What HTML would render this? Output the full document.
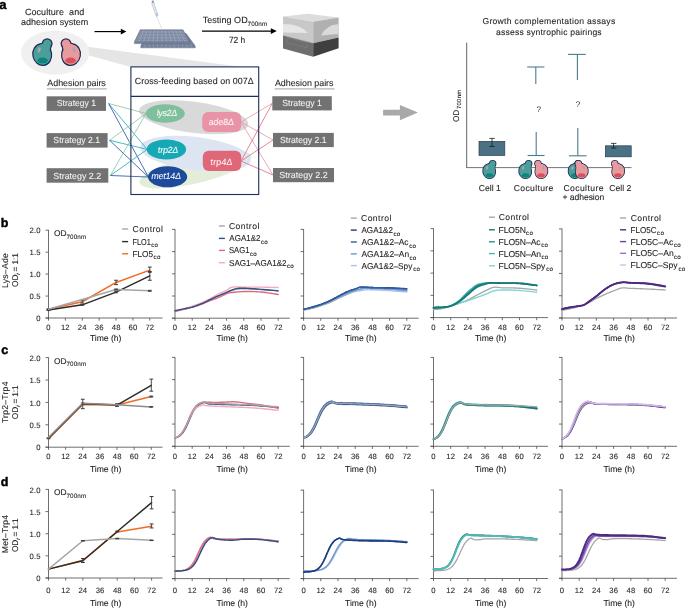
<!DOCTYPE html>
<html><head><meta charset="utf-8"><style>
html,body{margin:0;padding:0;background:#fff;width:685px;height:608px;overflow:hidden;}
svg{display:block;font-family:"Liberation Sans", sans-serif;will-change:transform;text-rendering:geometricPrecision;}
</style></head><body>
<svg width="685" height="608" viewBox="0 0 685 608" font-family='"Liberation Sans", sans-serif'><text x="-0.74" y="8.60" font-size="13" fill="#000" stroke="#000" stroke-width="0.45" letter-spacing="-0.055" font-weight="bold" xml:space="preserve">a</text>
<text x="24.90" y="14.90" font-size="9.0" fill="#231f20" stroke="#231f20" stroke-width="0.1" letter-spacing="0.061" xml:space="preserve">Coculture  and</text>
<text x="20.99" y="24.60" font-size="9.0" fill="#231f20" stroke="#231f20" stroke-width="0.1" letter-spacing="-0.021" xml:space="preserve">adhesion system</text>
<polygon points="80.00,45.70 242.50,66.90 131.00,66.90 80.00,53.00" fill="#e5e5e5"/>
<ellipse cx="55.20" cy="52.60" rx="34.20" ry="22.10" fill="#f0f0f0"/>
<g>
<ellipse cx="42.20" cy="54.60" rx="10.00" ry="11.50" fill="#1d2a55" transform="rotate(-10 42.20 54.60)"/>
<circle cx="47.20" cy="43.60" r="5.40" fill="#1d2a55"/>
<ellipse cx="44.20" cy="48.20" rx="7.60" ry="6.00" fill="#1d2a55" transform="rotate(-25.0 44.20 48.20)"/>
<ellipse cx="42.20" cy="54.60" rx="8.80" ry="10.30" fill="#4a9f9b" transform="rotate(-10 42.20 54.60)"/>
<circle cx="47.20" cy="43.60" r="4.20" fill="#4a9f9b"/>
<ellipse cx="44.20" cy="48.20" rx="6.40" ry="4.80" fill="#4a9f9b" transform="rotate(-25.0 44.20 48.20)"/>
<ellipse cx="39.20" cy="49.80" rx="1.50" ry="2.80" fill="#a7a7a7" transform="rotate(15 39.20 49.80)"/>
<ellipse cx="42.60" cy="60.50" rx="5.30" ry="2.90" fill="#0c857a"/>
</g>
<g>
<ellipse cx="71.00" cy="54.60" rx="10.00" ry="11.50" fill="#1d2a55" transform="rotate(10 71.00 54.60)"/>
<circle cx="66.00" cy="43.60" r="5.40" fill="#1d2a55"/>
<ellipse cx="69.00" cy="48.20" rx="7.60" ry="6.00" fill="#1d2a55" transform="rotate(25.0 69.00 48.20)"/>
<ellipse cx="71.00" cy="54.60" rx="8.80" ry="10.30" fill="#e99a9e" transform="rotate(10 71.00 54.60)"/>
<circle cx="66.00" cy="43.60" r="4.20" fill="#e99a9e"/>
<ellipse cx="69.00" cy="48.20" rx="6.40" ry="4.80" fill="#e99a9e" transform="rotate(25.0 69.00 48.20)"/>
<ellipse cx="74.00" cy="49.80" rx="1.50" ry="2.80" fill="#a7a7a7" transform="rotate(-15 74.00 49.80)"/>
<ellipse cx="70.60" cy="60.50" rx="5.30" ry="2.90" fill="#d8505b"/>
</g>
<line x1="94.50" y1="31.60" x2="122.00" y2="31.60" stroke="#000" stroke-width="1.15"/>
<polygon points="120.80,28.70 126.40,31.60 120.80,34.50" fill="#000"/>
<line x1="156.20" y1="16.00" x2="161.80" y2="28.60" stroke="#c5ccd6" stroke-width="0.55"/>
<polygon points="151.6,3.4 153.8,2.2 158.2,15.6 156.3,16.6" fill="#dfe5ec" stroke="#93a3b8" stroke-width="0.35"/>
<ellipse cx="156.8" cy="14.6" rx="1.0" ry="1.5" fill="#a9c6e2"/>
<rect x="151.8" y="0.6" width="2.0" height="2.2" fill="#8194b2"/>
<polygon points="145.80,33.60 186.20,33.60 195.20,46.00 195.20,47.80 140.80,47.80 140.80,46.00" fill="#75819a" stroke="#5f6b84" stroke-width="0.5"/>
<polygon points="140.20,29.80 183.00,29.80 189.60,41.80 189.60,43.60 134.40,43.60 134.40,41.80" fill="#75819a" stroke="#5f6b84" stroke-width="0.5"/>
<line x1="143.77" y1="30.40" x2="139.00" y2="41.60" stroke="#a9b3c5" stroke-width="0.5"/>
<line x1="147.33" y1="30.40" x2="143.60" y2="41.60" stroke="#a9b3c5" stroke-width="0.5"/>
<line x1="150.90" y1="30.40" x2="148.20" y2="41.60" stroke="#a9b3c5" stroke-width="0.5"/>
<line x1="154.47" y1="30.40" x2="152.80" y2="41.60" stroke="#a9b3c5" stroke-width="0.5"/>
<line x1="158.03" y1="30.40" x2="157.40" y2="41.60" stroke="#a9b3c5" stroke-width="0.5"/>
<line x1="161.60" y1="30.40" x2="162.00" y2="41.60" stroke="#a9b3c5" stroke-width="0.5"/>
<line x1="165.17" y1="30.40" x2="166.60" y2="41.60" stroke="#a9b3c5" stroke-width="0.5"/>
<line x1="168.73" y1="30.40" x2="171.20" y2="41.60" stroke="#a9b3c5" stroke-width="0.5"/>
<line x1="172.30" y1="30.40" x2="175.80" y2="41.60" stroke="#a9b3c5" stroke-width="0.5"/>
<line x1="175.87" y1="30.40" x2="180.40" y2="41.60" stroke="#a9b3c5" stroke-width="0.5"/>
<line x1="179.43" y1="30.40" x2="185.00" y2="41.60" stroke="#a9b3c5" stroke-width="0.5"/>
<line x1="140.07" y1="31.30" x2="183.22" y2="31.30" stroke="#a9b3c5" stroke-width="0.5"/>
<line x1="139.35" y1="32.80" x2="184.05" y2="32.80" stroke="#a9b3c5" stroke-width="0.5"/>
<line x1="138.62" y1="34.30" x2="184.88" y2="34.30" stroke="#a9b3c5" stroke-width="0.5"/>
<line x1="137.90" y1="35.80" x2="185.70" y2="35.80" stroke="#a9b3c5" stroke-width="0.5"/>
<line x1="137.17" y1="37.30" x2="186.53" y2="37.30" stroke="#a9b3c5" stroke-width="0.5"/>
<line x1="136.45" y1="38.80" x2="187.35" y2="38.80" stroke="#a9b3c5" stroke-width="0.5"/>
<line x1="135.72" y1="40.30" x2="188.18" y2="40.30" stroke="#a9b3c5" stroke-width="0.5"/>
<line x1="144.98" y1="44.20" x2="144.98" y2="47.40" stroke="#a9b3c5" stroke-width="0.45"/>
<line x1="149.17" y1="44.20" x2="149.17" y2="47.40" stroke="#a9b3c5" stroke-width="0.45"/>
<line x1="153.35" y1="44.20" x2="153.35" y2="47.40" stroke="#a9b3c5" stroke-width="0.45"/>
<line x1="157.54" y1="44.20" x2="157.54" y2="47.40" stroke="#a9b3c5" stroke-width="0.45"/>
<line x1="161.72" y1="44.20" x2="161.72" y2="47.40" stroke="#a9b3c5" stroke-width="0.45"/>
<line x1="165.91" y1="44.20" x2="165.91" y2="47.40" stroke="#a9b3c5" stroke-width="0.45"/>
<line x1="170.09" y1="44.20" x2="170.09" y2="47.40" stroke="#a9b3c5" stroke-width="0.45"/>
<line x1="174.28" y1="44.20" x2="174.28" y2="47.40" stroke="#a9b3c5" stroke-width="0.45"/>
<line x1="178.46" y1="44.20" x2="178.46" y2="47.40" stroke="#a9b3c5" stroke-width="0.45"/>
<line x1="182.65" y1="44.20" x2="182.65" y2="47.40" stroke="#a9b3c5" stroke-width="0.45"/>
<line x1="186.83" y1="44.20" x2="186.83" y2="47.40" stroke="#a9b3c5" stroke-width="0.45"/>
<line x1="191.02" y1="44.20" x2="191.02" y2="47.40" stroke="#a9b3c5" stroke-width="0.45"/>
<text x="202.67" y="22.90" font-size="9.0" fill="#231f20" stroke="#231f20" stroke-width="0.1" letter-spacing="0.053" xml:space="preserve">Testing OD</text>
<text x="247.53" y="25.70" font-size="6.3" fill="#231f20" stroke="#231f20" stroke-width="0.1" letter-spacing="0.112" xml:space="preserve">700nm</text>
<line x1="202.00" y1="31.10" x2="272.00" y2="31.10" stroke="#000" stroke-width="1.15"/>
<polygon points="270.80,28.20 276.80,31.10 270.80,34.00" fill="#000"/>
<text transform="translate(228.93 43.00) scale(0.9290 1)" font-size="9.0" fill="#231f20" stroke="#231f20" stroke-width="0.1" xml:space="preserve">72 h</text>
<polygon points="283.00,16.60 307.40,13.80 338.60,17.60 313.20,21.80" fill="#dcdcdc"/>
<polygon points="283.00,16.60 313.20,21.80 313.20,43.20 283.00,35.60" fill="#c8c8c8"/>
<polygon points="313.20,21.80 338.60,17.60 338.60,37.40 313.20,43.20" fill="#b0b0b0"/>
<polygon points="283.00,35.60 313.20,43.20 313.20,56.80 283.00,48.40" fill="#6e6e6e"/>
<polygon points="313.20,43.20 338.60,37.40 338.60,48.20 313.20,56.80" fill="#3f3f3f"/>
<path d="M283,24 Q300,24 308,33 L283,32.5 Z" fill="#e6e6e6"/>
<path d="M338.6,24 Q326,25 321,35.5 L338.6,34 Z" fill="#dadada"/>
<path d="M287,37.8 L307,42.6 L307,47.6 L287,43 Z" fill="none" stroke="#8a8a8a" stroke-width="0.4"/>
<line x1="283.00" y1="35.60" x2="313.20" y2="43.20" stroke="#8a8a8a" stroke-width="0.4"/>
<ellipse cx="193.70" cy="117.30" rx="55.00" ry="15.60" fill="#d9d9d9" transform="rotate(7.4 193.70 117.30)"/>
<ellipse cx="195.40" cy="169.40" rx="57.50" ry="14.00" fill="#e3eed8" transform="rotate(-13.5 195.40 169.40)"/>
<ellipse cx="195.50" cy="153.60" rx="55.70" ry="16.60" fill="#dee5f2" transform="rotate(7.0 195.50 153.60)"/>
<line x1="108.60" y1="103.50" x2="146.00" y2="113.50" stroke="#86c3a2" stroke-width="0.8"/>
<line x1="108.60" y1="103.50" x2="147.20" y2="149.40" stroke="#1aaab6" stroke-width="0.8"/>
<line x1="108.60" y1="103.50" x2="148.40" y2="177.00" stroke="#1f4d9e" stroke-width="0.8"/>
<line x1="109.60" y1="140.30" x2="146.00" y2="113.50" stroke="#86c3a2" stroke-width="0.8"/>
<line x1="109.60" y1="140.30" x2="147.20" y2="149.40" stroke="#1aaab6" stroke-width="0.8"/>
<line x1="109.60" y1="140.30" x2="148.40" y2="177.00" stroke="#1f4d9e" stroke-width="0.8"/>
<line x1="110.40" y1="175.50" x2="146.00" y2="113.50" stroke="#86c3a2" stroke-width="0.8"/>
<line x1="110.40" y1="175.50" x2="147.20" y2="149.40" stroke="#1aaab6" stroke-width="0.8"/>
<line x1="110.40" y1="175.50" x2="148.40" y2="177.00" stroke="#1f4d9e" stroke-width="0.8"/>
<line x1="241.00" y1="122.00" x2="272.30" y2="103.30" stroke="#ea93a6" stroke-width="0.8"/>
<line x1="241.00" y1="122.00" x2="273.00" y2="140.00" stroke="#ea93a6" stroke-width="0.8"/>
<line x1="241.00" y1="122.00" x2="273.00" y2="175.00" stroke="#ea93a6" stroke-width="0.8"/>
<line x1="241.00" y1="161.00" x2="272.30" y2="103.30" stroke="#e06a7a" stroke-width="0.8"/>
<line x1="241.00" y1="161.00" x2="273.00" y2="140.00" stroke="#e06a7a" stroke-width="0.8"/>
<line x1="241.00" y1="161.00" x2="273.00" y2="175.00" stroke="#e06a7a" stroke-width="0.8"/>
<ellipse cx="165.20" cy="113.50" rx="19.60" ry="9.20" fill="#7fbf9d"/>
<ellipse cx="166.40" cy="149.40" rx="19.70" ry="10.00" fill="#16a9b5"/>
<ellipse cx="167.60" cy="176.80" rx="19.60" ry="10.50" fill="#1d4a9b"/>
<rect x="202.20" y="111.90" width="39.00" height="20.10" fill="#e993a6" rx="6"/>
<rect x="202.80" y="150.80" width="38.50" height="20.30" fill="#df6777" rx="6"/>
<g transform="translate(156.47 115.90) skewX(-8.0)"><text x="0" y="0" font-size="8.9" fill="#f4f8f4" stroke="#f4f8f4" stroke-width="0.1" letter-spacing="-0.340">lys2Δ</text></g>
<g transform="translate(157.62 152.70) skewX(-8.0)"><text x="0" y="0" font-size="8.9" fill="#f4fbfb" stroke="#f4fbfb" stroke-width="0.1" letter-spacing="-0.204">trp2Δ</text></g>
<g transform="translate(150.97 179.10) skewX(-8.0)"><text x="0" y="0" font-size="8.9" fill="#f2f4fa" stroke="#f2f4fa" stroke-width="0.1" letter-spacing="-0.172">met14Δ</text></g>
<g transform="translate(208.49 124.70) skewX(-5)"><text x="0" y="0" font-size="8.9" fill="#fdf2f4" stroke="#fdf2f4" stroke-width="0.1" letter-spacing="-0.111">ade8Δ</text></g>
<g transform="translate(210.22 164.70) skewX(-5)"><text x="0" y="0" font-size="8.9" fill="#fdf2f4" stroke="#fdf2f4" stroke-width="0.1" letter-spacing="0.196">trp4Δ</text></g>
<rect x="130.9" y="66.9" width="127.8" height="127.6" fill="none" stroke="#1c2d5a" stroke-width="1.1"/>
<line x1="130.90" y1="96.40" x2="258.70" y2="96.40" stroke="#1c2d5a" stroke-width="1.1"/>
<text x="134.71" y="84.10" font-size="8.9" fill="#231f20" stroke="#231f20" stroke-width="0.1" letter-spacing="0.062" xml:space="preserve">Cross-feeding based on 007Δ</text>
<text x="47.35" y="85.80" font-size="8.9" fill="#231f20" stroke="#231f20" stroke-width="0.1" letter-spacing="-0.020" xml:space="preserve">Adhesion pairs</text>
<line x1="47.00" y1="88.90" x2="106.80" y2="88.90" stroke="#b4b4b4" stroke-width="1.4"/>
<text x="274.95" y="86.20" font-size="8.9" fill="#231f20" stroke="#231f20" stroke-width="0.1" letter-spacing="-0.012" xml:space="preserve">Adhesion pairs</text>
<line x1="274.60" y1="88.90" x2="334.50" y2="88.90" stroke="#b4b4b4" stroke-width="1.4"/>
<rect x="46.60" y="96.30" width="59.40" height="14.60" fill="#727272"/>
<text transform="translate(56.86 106.20) scale(0.9688 1)" font-size="8.9" fill="#f0f0f0" stroke="#f0f0f0" stroke-width="0.1" xml:space="preserve">Strategy 1</text>
<rect x="46.60" y="133.10" width="61.00" height="14.50" fill="#727272"/>
<text transform="translate(53.36 143.40) scale(0.9752 1)" font-size="8.9" fill="#f0f0f0" stroke="#f0f0f0" stroke-width="0.1" xml:space="preserve">Strategy 2.1</text>
<rect x="46.60" y="168.20" width="61.70" height="14.50" fill="#727272"/>
<text x="53.35" y="178.60" font-size="8.9" fill="#f0f0f0" stroke="#f0f0f0" stroke-width="0.1" letter-spacing="-0.002" xml:space="preserve">Strategy 2.2</text>
<rect x="272.30" y="96.20" width="59.50" height="14.20" fill="#727272"/>
<text transform="translate(282.26 106.30) scale(0.9764 1)" font-size="8.9" fill="#f0f0f0" stroke="#f0f0f0" stroke-width="0.1" xml:space="preserve">Strategy 1</text>
<rect x="273.00" y="132.90" width="60.80" height="14.20" fill="#727272"/>
<text transform="translate(279.96 142.90) scale(0.9752 1)" font-size="8.9" fill="#f0f0f0" stroke="#f0f0f0" stroke-width="0.1" xml:space="preserve">Strategy 2.1</text>
<rect x="273.00" y="168.00" width="61.00" height="14.20" fill="#727272"/>
<text x="279.25" y="178.00" font-size="8.9" fill="#f0f0f0" stroke="#f0f0f0" stroke-width="0.1" letter-spacing="0.043" xml:space="preserve">Strategy 2.2</text>
<polygon points="383.10,109.70 399.90,109.70 399.90,105.00 417.90,112.40 399.90,120.20 399.90,115.50 383.10,115.50" fill="#a9a9a9"/>
<text x="482.42" y="24.30" font-size="8.6" fill="#231f20" stroke="#231f20" stroke-width="0.1" letter-spacing="0.292" xml:space="preserve">Growth complementation assays</text>
<text x="496.11" y="34.60" font-size="8.6" fill="#231f20" stroke="#231f20" stroke-width="0.1" letter-spacing="0.191" xml:space="preserve">assess syntrophic pairings</text>
<line x1="466.70" y1="42.60" x2="466.70" y2="167.80" stroke="#555" stroke-width="0.9"/>
<line x1="466.20" y1="167.60" x2="631.50" y2="167.60" stroke="#666" stroke-width="0.9"/>
<text transform="translate(459.0 122.1) rotate(-90)" font-size="8.3" fill="#231f20" stroke="#231f20" stroke-width="0.1">OD<tspan font-size="5.9" dy="2.2" dx="0.6" letter-spacing="0.3">700nm</tspan></text>
<rect x="479.00" y="141.40" width="25.80" height="14.00" fill="#4a7284" stroke="#263d52" stroke-width="0.7"/>
<rect x="605.40" y="145.80" width="25.80" height="11.00" fill="#4a7284" stroke="#263d52" stroke-width="0.7"/>
<line x1="492.00" y1="138.40" x2="492.00" y2="146.60" stroke="#1a1a1a" stroke-width="0.8"/>
<line x1="489.40" y1="138.40" x2="494.80" y2="138.40" stroke="#1a1a1a" stroke-width="0.8"/>
<line x1="489.40" y1="146.40" x2="494.80" y2="146.40" stroke="#1a1a1a" stroke-width="0.8"/>
<line x1="613.60" y1="143.40" x2="613.60" y2="148.20" stroke="#1a1a1a" stroke-width="0.8"/>
<line x1="611.00" y1="143.40" x2="616.40" y2="143.40" stroke="#1a1a1a" stroke-width="0.8"/>
<line x1="611.00" y1="148.00" x2="616.40" y2="148.00" stroke="#1a1a1a" stroke-width="0.8"/>
<line x1="527.20" y1="67.00" x2="544.40" y2="67.00" stroke="#4e7a8e" stroke-width="1.1"/>
<line x1="535.80" y1="67.00" x2="535.80" y2="84.00" stroke="#4e7a8e" stroke-width="1.1"/>
<line x1="536.20" y1="132.00" x2="536.20" y2="155.50" stroke="#4e7a8e" stroke-width="1.1"/>
<line x1="527.60" y1="155.50" x2="544.60" y2="155.50" stroke="#4e7a8e" stroke-width="1.1"/>
<line x1="568.00" y1="54.40" x2="585.80" y2="54.40" stroke="#4e7a8e" stroke-width="1.1"/>
<line x1="577.40" y1="54.40" x2="577.40" y2="80.00" stroke="#4e7a8e" stroke-width="1.1"/>
<line x1="577.80" y1="128.00" x2="577.80" y2="155.80" stroke="#4e7a8e" stroke-width="1.1"/>
<line x1="569.00" y1="155.80" x2="586.60" y2="155.80" stroke="#4e7a8e" stroke-width="1.1"/>
<text x="538.70" y="112.20" font-size="8" fill="#231f20" text-anchor="middle">?</text>
<text x="578.00" y="107.00" font-size="8" fill="#231f20" text-anchor="middle">?</text>
<g>
<ellipse cx="489.20" cy="171.20" rx="6.90" ry="7.94" fill="#1d2a55" transform="rotate(-10 489.20 171.20)"/>
<circle cx="492.65" cy="163.61" r="3.73" fill="#1d2a55"/>
<ellipse cx="490.58" cy="166.78" rx="5.24" ry="4.14" fill="#1d2a55" transform="rotate(-25.0 490.58 166.78)"/>
<ellipse cx="489.20" cy="171.20" rx="6.07" ry="7.11" fill="#4a9f9b" transform="rotate(-10 489.20 171.20)"/>
<circle cx="492.65" cy="163.61" r="2.90" fill="#4a9f9b"/>
<ellipse cx="490.58" cy="166.78" rx="4.42" ry="3.31" fill="#4a9f9b" transform="rotate(-25.0 490.58 166.78)"/>
<ellipse cx="487.13" cy="167.89" rx="1.03" ry="1.93" fill="#a7a7a7" transform="rotate(15 487.13 167.89)"/>
<ellipse cx="489.48" cy="175.27" rx="3.66" ry="2.00" fill="#0c857a"/>
</g>
<g>
<ellipse cx="525.20" cy="171.20" rx="6.90" ry="7.94" fill="#1d2a55" transform="rotate(-10 525.20 171.20)"/>
<circle cx="528.65" cy="163.61" r="3.73" fill="#1d2a55"/>
<ellipse cx="526.58" cy="166.78" rx="5.24" ry="4.14" fill="#1d2a55" transform="rotate(-25.0 526.58 166.78)"/>
<ellipse cx="525.20" cy="171.20" rx="6.07" ry="7.11" fill="#4a9f9b" transform="rotate(-10 525.20 171.20)"/>
<circle cx="528.65" cy="163.61" r="2.90" fill="#4a9f9b"/>
<ellipse cx="526.58" cy="166.78" rx="4.42" ry="3.31" fill="#4a9f9b" transform="rotate(-25.0 526.58 166.78)"/>
<ellipse cx="523.13" cy="167.89" rx="1.03" ry="1.93" fill="#a7a7a7" transform="rotate(15 523.13 167.89)"/>
<ellipse cx="525.48" cy="175.27" rx="3.66" ry="2.00" fill="#0c857a"/>
</g>
<g>
<ellipse cx="541.40" cy="171.20" rx="6.90" ry="7.94" fill="#1d2a55" transform="rotate(10 541.40 171.20)"/>
<circle cx="537.95" cy="163.61" r="3.73" fill="#1d2a55"/>
<ellipse cx="540.02" cy="166.78" rx="5.24" ry="4.14" fill="#1d2a55" transform="rotate(25.0 540.02 166.78)"/>
<ellipse cx="541.40" cy="171.20" rx="6.07" ry="7.11" fill="#e99a9e" transform="rotate(10 541.40 171.20)"/>
<circle cx="537.95" cy="163.61" r="2.90" fill="#e99a9e"/>
<ellipse cx="540.02" cy="166.78" rx="4.42" ry="3.31" fill="#e99a9e" transform="rotate(25.0 540.02 166.78)"/>
<ellipse cx="543.47" cy="167.89" rx="1.03" ry="1.93" fill="#a7a7a7" transform="rotate(-15 543.47 167.89)"/>
<ellipse cx="541.12" cy="175.27" rx="3.66" ry="2.00" fill="#d8505b"/>
</g>
<g>
<ellipse cx="574.60" cy="171.20" rx="6.90" ry="7.94" fill="#1d2a55" transform="rotate(-10 574.60 171.20)"/>
<circle cx="578.05" cy="163.61" r="3.73" fill="#1d2a55"/>
<ellipse cx="575.98" cy="166.78" rx="5.24" ry="4.14" fill="#1d2a55" transform="rotate(-25.0 575.98 166.78)"/>
<ellipse cx="574.60" cy="171.20" rx="6.07" ry="7.11" fill="#4a9f9b" transform="rotate(-10 574.60 171.20)"/>
<circle cx="578.05" cy="163.61" r="2.90" fill="#4a9f9b"/>
<ellipse cx="575.98" cy="166.78" rx="4.42" ry="3.31" fill="#4a9f9b" transform="rotate(-25.0 575.98 166.78)"/>
<ellipse cx="572.53" cy="167.89" rx="1.03" ry="1.93" fill="#a7a7a7" transform="rotate(15 572.53 167.89)"/>
<ellipse cx="574.88" cy="175.27" rx="3.66" ry="2.00" fill="#0c857a"/>
</g>
<g>
<ellipse cx="581.80" cy="171.20" rx="6.90" ry="7.94" fill="#1d2a55" transform="rotate(10 581.80 171.20)"/>
<circle cx="578.35" cy="163.61" r="3.73" fill="#1d2a55"/>
<ellipse cx="580.42" cy="166.78" rx="5.24" ry="4.14" fill="#1d2a55" transform="rotate(25.0 580.42 166.78)"/>
<ellipse cx="581.80" cy="171.20" rx="6.07" ry="7.11" fill="#e99a9e" transform="rotate(10 581.80 171.20)"/>
<circle cx="578.35" cy="163.61" r="2.90" fill="#e99a9e"/>
<ellipse cx="580.42" cy="166.78" rx="4.42" ry="3.31" fill="#e99a9e" transform="rotate(25.0 580.42 166.78)"/>
<ellipse cx="583.87" cy="167.89" rx="1.03" ry="1.93" fill="#a7a7a7" transform="rotate(-15 583.87 167.89)"/>
<ellipse cx="581.52" cy="175.27" rx="3.66" ry="2.00" fill="#d8505b"/>
</g>
<g>
<ellipse cx="618.20" cy="171.20" rx="6.90" ry="7.94" fill="#1d2a55" transform="rotate(10 618.20 171.20)"/>
<circle cx="614.75" cy="163.61" r="3.73" fill="#1d2a55"/>
<ellipse cx="616.82" cy="166.78" rx="5.24" ry="4.14" fill="#1d2a55" transform="rotate(25.0 616.82 166.78)"/>
<ellipse cx="618.20" cy="171.20" rx="6.07" ry="7.11" fill="#e99a9e" transform="rotate(10 618.20 171.20)"/>
<circle cx="614.75" cy="163.61" r="2.90" fill="#e99a9e"/>
<ellipse cx="616.82" cy="166.78" rx="4.42" ry="3.31" fill="#e99a9e" transform="rotate(25.0 616.82 166.78)"/>
<ellipse cx="620.27" cy="167.89" rx="1.03" ry="1.93" fill="#a7a7a7" transform="rotate(-15 620.27 167.89)"/>
<ellipse cx="617.92" cy="175.27" rx="3.66" ry="2.00" fill="#d8505b"/>
</g>
<text x="478.72" y="190.90" font-size="8.6" fill="#231f20" stroke="#231f20" stroke-width="0.1" letter-spacing="0.009" xml:space="preserve">Cell 1</text>
<text x="513.82" y="190.90" font-size="8.6" fill="#231f20" stroke="#231f20" stroke-width="0.1" letter-spacing="0.339" xml:space="preserve">Coculture</text>
<text x="563.42" y="190.90" font-size="8.6" fill="#231f20" stroke="#231f20" stroke-width="0.1" letter-spacing="0.414" xml:space="preserve">Coculture</text>
<text x="609.22" y="190.90" font-size="8.6" fill="#231f20" stroke="#231f20" stroke-width="0.1" letter-spacing="0.017" xml:space="preserve">Cell 2</text>
<text x="562.52" y="200.30" font-size="8.6" fill="#231f20" stroke="#231f20" stroke-width="0.1" letter-spacing="-0.069" xml:space="preserve">+ adhesion</text>
<line x1="48.50" y1="229.90" x2="48.50" y2="318.30" stroke="#4a4a4a" stroke-width="0.8"/>
<line x1="45.50" y1="318.00" x2="162.50" y2="318.00" stroke="#4a4a4a" stroke-width="0.8"/>
<line x1="45.50" y1="318.00" x2="48.50" y2="318.00" stroke="#4a4a4a" stroke-width="0.8"/>
<line x1="45.50" y1="296.05" x2="48.50" y2="296.05" stroke="#4a4a4a" stroke-width="0.8"/>
<line x1="45.50" y1="274.10" x2="48.50" y2="274.10" stroke="#4a4a4a" stroke-width="0.8"/>
<line x1="45.50" y1="252.15" x2="48.50" y2="252.15" stroke="#4a4a4a" stroke-width="0.8"/>
<line x1="45.50" y1="230.20" x2="48.50" y2="230.20" stroke="#4a4a4a" stroke-width="0.8"/>
<line x1="48.50" y1="318.00" x2="48.50" y2="320.60" stroke="#4a4a4a" stroke-width="0.8"/>
<text x="46.34" y="329.90" font-size="7.7" fill="#2a2a2a" stroke="#2a2a2a" stroke-width="0.1" letter-spacing="0.100" xml:space="preserve">0</text>
<line x1="65.38" y1="318.00" x2="65.38" y2="320.60" stroke="#4a4a4a" stroke-width="0.8"/>
<text x="60.96" y="329.90" font-size="7.7" fill="#2a2a2a" stroke="#2a2a2a" stroke-width="0.1" letter-spacing="0.100" xml:space="preserve">12</text>
<line x1="82.27" y1="318.00" x2="82.27" y2="320.60" stroke="#4a4a4a" stroke-width="0.8"/>
<text x="77.87" y="329.90" font-size="7.7" fill="#2a2a2a" stroke="#2a2a2a" stroke-width="0.1" letter-spacing="0.100" xml:space="preserve">24</text>
<line x1="99.15" y1="318.00" x2="99.15" y2="320.60" stroke="#4a4a4a" stroke-width="0.8"/>
<text x="94.83" y="329.90" font-size="7.7" fill="#2a2a2a" stroke="#2a2a2a" stroke-width="0.1" letter-spacing="0.100" xml:space="preserve">36</text>
<line x1="116.03" y1="318.00" x2="116.03" y2="320.60" stroke="#4a4a4a" stroke-width="0.8"/>
<text x="111.79" y="329.90" font-size="7.7" fill="#2a2a2a" stroke="#2a2a2a" stroke-width="0.1" letter-spacing="0.100" xml:space="preserve">48</text>
<line x1="132.92" y1="318.00" x2="132.92" y2="320.60" stroke="#4a4a4a" stroke-width="0.8"/>
<text x="128.54" y="329.90" font-size="7.7" fill="#2a2a2a" stroke="#2a2a2a" stroke-width="0.1" letter-spacing="0.100" xml:space="preserve">60</text>
<line x1="149.80" y1="318.00" x2="149.80" y2="320.60" stroke="#4a4a4a" stroke-width="0.8"/>
<text x="145.48" y="329.90" font-size="7.7" fill="#2a2a2a" stroke="#2a2a2a" stroke-width="0.1" letter-spacing="0.100" xml:space="preserve">72</text>
<text x="89.88" y="341.20" font-size="8.6" fill="#231f20" stroke="#231f20" stroke-width="0.1" letter-spacing="-0.009" xml:space="preserve">Time (h)</text>
<text x="36.20" y="321.10" font-size="7.7" fill="#2a2a2a" stroke="#2a2a2a" stroke-width="0.1" letter-spacing="0.100" xml:space="preserve">0</text>
<text x="29.61" y="299.15" font-size="7.7" fill="#2a2a2a" stroke="#2a2a2a" stroke-width="0.1" letter-spacing="0.100" xml:space="preserve">0.5</text>
<text x="29.57" y="277.20" font-size="7.7" fill="#2a2a2a" stroke="#2a2a2a" stroke-width="0.1" letter-spacing="0.100" xml:space="preserve">1.0</text>
<text x="29.61" y="255.25" font-size="7.7" fill="#2a2a2a" stroke="#2a2a2a" stroke-width="0.1" letter-spacing="0.100" xml:space="preserve">1.5</text>
<text x="29.57" y="233.30" font-size="7.7" fill="#2a2a2a" stroke="#2a2a2a" stroke-width="0.1" letter-spacing="0.100" xml:space="preserve">2.0</text>
<text x="53.97" y="236.10" font-size="8.4" fill="#231f20" stroke="#231f20" stroke-width="0.1" letter-spacing="0.056" xml:space="preserve">OD</text>
<text x="66.44" y="239.00" font-size="6.3" fill="#231f20" stroke="#231f20" stroke-width="0.1" letter-spacing="0.137" xml:space="preserve">700nm</text>
<text transform="translate(8.3 270.50) rotate(-90)" font-size="8.6" fill="#231f20" stroke="#231f20" stroke-width="0.1" text-anchor="middle" letter-spacing="0.25">Lys–Ade</text>
<text transform="translate(17.7 270.10) rotate(-90)" font-size="8.4" fill="#231f20" stroke="#231f20" stroke-width="0.1" text-anchor="middle" letter-spacing="-0.15">OD<tspan font-size="5.6" dy="2.3" font-style="italic">i</tspan><tspan dy="-2.3"> = 1:1</tspan></text>
<text x="0.74" y="227.00" font-size="12.5" fill="#000" stroke="#000" stroke-width="0.45" letter-spacing="-0.012" font-weight="bold" xml:space="preserve">b</text>
<polyline points="48.50,309.22 82.27,301.76 116.03,282.44 149.80,270.15" fill="none" stroke="#f26b21" stroke-width="1.5" stroke-linejoin="round" stroke-linecap="round"/>
<line x1="48.50" y1="309.66" x2="48.50" y2="308.78" stroke="#3a3a3a" stroke-width="0.9"/>
<line x1="46.60" y1="309.66" x2="50.40" y2="309.66" stroke="#3a3a3a" stroke-width="1.0"/>
<line x1="46.60" y1="308.78" x2="50.40" y2="308.78" stroke="#3a3a3a" stroke-width="1.0"/>
<line x1="82.27" y1="303.07" x2="82.27" y2="300.00" stroke="#3a3a3a" stroke-width="0.9"/>
<line x1="80.37" y1="303.07" x2="84.17" y2="303.07" stroke="#3a3a3a" stroke-width="1.0"/>
<line x1="80.37" y1="300.00" x2="84.17" y2="300.00" stroke="#3a3a3a" stroke-width="1.0"/>
<line x1="116.03" y1="284.64" x2="116.03" y2="280.25" stroke="#3a3a3a" stroke-width="0.9"/>
<line x1="114.13" y1="284.64" x2="117.93" y2="284.64" stroke="#3a3a3a" stroke-width="1.0"/>
<line x1="114.13" y1="280.25" x2="117.93" y2="280.25" stroke="#3a3a3a" stroke-width="1.0"/>
<line x1="149.80" y1="272.34" x2="149.80" y2="267.08" stroke="#3a3a3a" stroke-width="0.9"/>
<line x1="147.90" y1="272.34" x2="151.70" y2="272.34" stroke="#3a3a3a" stroke-width="1.0"/>
<line x1="147.90" y1="267.08" x2="151.70" y2="267.08" stroke="#3a3a3a" stroke-width="1.0"/>
<polyline points="48.50,310.10 82.27,304.83 116.03,292.10 149.80,275.86" fill="none" stroke="#2b2b2b" stroke-width="1.5" stroke-linejoin="round" stroke-linecap="round"/>
<line x1="48.50" y1="310.54" x2="48.50" y2="309.66" stroke="#3a3a3a" stroke-width="0.9"/>
<line x1="46.60" y1="310.54" x2="50.40" y2="310.54" stroke="#3a3a3a" stroke-width="1.0"/>
<line x1="46.60" y1="309.66" x2="50.40" y2="309.66" stroke="#3a3a3a" stroke-width="1.0"/>
<line x1="82.27" y1="305.27" x2="82.27" y2="304.39" stroke="#3a3a3a" stroke-width="0.9"/>
<line x1="80.37" y1="305.27" x2="84.17" y2="305.27" stroke="#3a3a3a" stroke-width="1.0"/>
<line x1="80.37" y1="304.39" x2="84.17" y2="304.39" stroke="#3a3a3a" stroke-width="1.0"/>
<line x1="116.03" y1="292.76" x2="116.03" y2="291.22" stroke="#3a3a3a" stroke-width="0.9"/>
<line x1="114.13" y1="292.76" x2="117.93" y2="292.76" stroke="#3a3a3a" stroke-width="1.0"/>
<line x1="114.13" y1="291.22" x2="117.93" y2="291.22" stroke="#3a3a3a" stroke-width="1.0"/>
<line x1="149.80" y1="280.25" x2="149.80" y2="271.47" stroke="#3a3a3a" stroke-width="0.9"/>
<line x1="147.90" y1="280.25" x2="151.70" y2="280.25" stroke="#3a3a3a" stroke-width="1.0"/>
<line x1="147.90" y1="271.47" x2="151.70" y2="271.47" stroke="#3a3a3a" stroke-width="1.0"/>
<polyline points="48.50,309.22 82.27,299.56 116.03,289.46 149.80,290.78" fill="none" stroke="#a6a6a6" stroke-width="1.5" stroke-linejoin="round" stroke-linecap="round"/>
<line x1="116.03" y1="289.90" x2="116.03" y2="289.03" stroke="#3a3a3a" stroke-width="0.9"/>
<line x1="114.13" y1="289.90" x2="117.93" y2="289.90" stroke="#3a3a3a" stroke-width="1.0"/>
<line x1="114.13" y1="289.03" x2="117.93" y2="289.03" stroke="#3a3a3a" stroke-width="1.0"/>
<line x1="149.80" y1="291.22" x2="149.80" y2="290.34" stroke="#3a3a3a" stroke-width="0.9"/>
<line x1="147.90" y1="291.22" x2="151.70" y2="291.22" stroke="#3a3a3a" stroke-width="1.0"/>
<line x1="147.90" y1="290.34" x2="151.70" y2="290.34" stroke="#3a3a3a" stroke-width="1.0"/>
<line x1="122.10" y1="229.00" x2="128.10" y2="229.00" stroke="#a6a6a6" stroke-width="1.4"/>
<text x="132.62" y="231.90" font-size="8.6" fill="#231f20" stroke="#231f20" stroke-width="0.1" letter-spacing="0.433" xml:space="preserve">Control</text>
<line x1="122.10" y1="241.60" x2="128.10" y2="241.60" stroke="#2b2b2b" stroke-width="1.4"/>
<text transform="translate(132.46 244.50) scale(0.8519 1)" font-size="8.6" fill="#231f20" stroke="#231f20" stroke-width="0.1" xml:space="preserve">FLO1</text>
<text x="151.30" y="247.20" font-size="6.2" fill="#231f20" stroke="#231f20" stroke-width="0.1" letter-spacing="0.200" xml:space="preserve">co</text>
<line x1="122.10" y1="253.80" x2="128.10" y2="253.80" stroke="#f26b21" stroke-width="1.4"/>
<text transform="translate(132.39 256.70) scale(0.9625 1)" font-size="8.6" fill="#231f20" stroke="#231f20" stroke-width="0.1" xml:space="preserve">FLO5</text>
<text x="153.60" y="259.40" font-size="6.2" fill="#231f20" stroke="#231f20" stroke-width="0.1" letter-spacing="0.200" xml:space="preserve">co</text>
<line x1="48.50" y1="357.30" x2="48.50" y2="447.50" stroke="#4a4a4a" stroke-width="0.8"/>
<line x1="45.50" y1="447.20" x2="162.50" y2="447.20" stroke="#4a4a4a" stroke-width="0.8"/>
<line x1="45.50" y1="447.20" x2="48.50" y2="447.20" stroke="#4a4a4a" stroke-width="0.8"/>
<line x1="45.50" y1="424.80" x2="48.50" y2="424.80" stroke="#4a4a4a" stroke-width="0.8"/>
<line x1="45.50" y1="402.40" x2="48.50" y2="402.40" stroke="#4a4a4a" stroke-width="0.8"/>
<line x1="45.50" y1="380.00" x2="48.50" y2="380.00" stroke="#4a4a4a" stroke-width="0.8"/>
<line x1="45.50" y1="357.60" x2="48.50" y2="357.60" stroke="#4a4a4a" stroke-width="0.8"/>
<line x1="48.50" y1="447.20" x2="48.50" y2="449.80" stroke="#4a4a4a" stroke-width="0.8"/>
<text x="46.34" y="458.50" font-size="7.7" fill="#2a2a2a" stroke="#2a2a2a" stroke-width="0.1" letter-spacing="0.100" xml:space="preserve">0</text>
<line x1="65.63" y1="447.20" x2="65.63" y2="449.80" stroke="#4a4a4a" stroke-width="0.8"/>
<text x="61.21" y="458.50" font-size="7.7" fill="#2a2a2a" stroke="#2a2a2a" stroke-width="0.1" letter-spacing="0.100" xml:space="preserve">12</text>
<line x1="82.77" y1="447.20" x2="82.77" y2="449.80" stroke="#4a4a4a" stroke-width="0.8"/>
<text x="78.37" y="458.50" font-size="7.7" fill="#2a2a2a" stroke="#2a2a2a" stroke-width="0.1" letter-spacing="0.100" xml:space="preserve">24</text>
<line x1="99.90" y1="447.20" x2="99.90" y2="449.80" stroke="#4a4a4a" stroke-width="0.8"/>
<text x="95.58" y="458.50" font-size="7.7" fill="#2a2a2a" stroke="#2a2a2a" stroke-width="0.1" letter-spacing="0.100" xml:space="preserve">36</text>
<line x1="117.03" y1="447.20" x2="117.03" y2="449.80" stroke="#4a4a4a" stroke-width="0.8"/>
<text x="112.79" y="458.50" font-size="7.7" fill="#2a2a2a" stroke="#2a2a2a" stroke-width="0.1" letter-spacing="0.100" xml:space="preserve">48</text>
<line x1="134.17" y1="447.20" x2="134.17" y2="449.80" stroke="#4a4a4a" stroke-width="0.8"/>
<text x="129.79" y="458.50" font-size="7.7" fill="#2a2a2a" stroke="#2a2a2a" stroke-width="0.1" letter-spacing="0.100" xml:space="preserve">60</text>
<line x1="151.30" y1="447.20" x2="151.30" y2="449.80" stroke="#4a4a4a" stroke-width="0.8"/>
<text x="146.98" y="458.50" font-size="7.7" fill="#2a2a2a" stroke="#2a2a2a" stroke-width="0.1" letter-spacing="0.100" xml:space="preserve">72</text>
<text x="89.88" y="472.20" font-size="8.6" fill="#231f20" stroke="#231f20" stroke-width="0.1" letter-spacing="-0.009" xml:space="preserve">Time (h)</text>
<text x="36.20" y="450.30" font-size="7.7" fill="#2a2a2a" stroke="#2a2a2a" stroke-width="0.1" letter-spacing="0.100" xml:space="preserve">0</text>
<text x="29.61" y="427.90" font-size="7.7" fill="#2a2a2a" stroke="#2a2a2a" stroke-width="0.1" letter-spacing="0.100" xml:space="preserve">0.5</text>
<text x="29.57" y="405.50" font-size="7.7" fill="#2a2a2a" stroke="#2a2a2a" stroke-width="0.1" letter-spacing="0.100" xml:space="preserve">1.0</text>
<text x="29.61" y="383.10" font-size="7.7" fill="#2a2a2a" stroke="#2a2a2a" stroke-width="0.1" letter-spacing="0.100" xml:space="preserve">1.5</text>
<text x="29.57" y="360.70" font-size="7.7" fill="#2a2a2a" stroke="#2a2a2a" stroke-width="0.1" letter-spacing="0.100" xml:space="preserve">2.0</text>
<text x="53.97" y="363.50" font-size="8.4" fill="#231f20" stroke="#231f20" stroke-width="0.1" letter-spacing="0.056" xml:space="preserve">OD</text>
<text x="66.44" y="366.40" font-size="6.3" fill="#231f20" stroke="#231f20" stroke-width="0.1" letter-spacing="0.137" xml:space="preserve">700nm</text>
<text transform="translate(8.3 402.20) rotate(-90)" font-size="8.6" fill="#231f20" stroke="#231f20" stroke-width="0.1" text-anchor="middle" letter-spacing="0.25">Trp2–Trp4</text>
<text transform="translate(17.7 402.30) rotate(-90)" font-size="8.4" fill="#231f20" stroke="#231f20" stroke-width="0.1" text-anchor="middle" letter-spacing="-0.15">OD<tspan font-size="5.6" dy="2.3" font-style="italic">i</tspan><tspan dy="-2.3"> = 1:1</tspan></text>
<text x="1.25" y="354.30" font-size="12.5" fill="#000" stroke="#000" stroke-width="0.45" letter-spacing="0.038" font-weight="bold" xml:space="preserve">c</text>
<polyline points="48.50,438.91 82.77,404.42 117.03,405.09 151.30,396.58" fill="none" stroke="#f26b21" stroke-width="1.5" stroke-linejoin="round" stroke-linecap="round"/>
<line x1="151.30" y1="397.02" x2="151.30" y2="396.13" stroke="#3a3a3a" stroke-width="0.9"/>
<line x1="149.40" y1="397.02" x2="153.20" y2="397.02" stroke="#3a3a3a" stroke-width="1.0"/>
<line x1="149.40" y1="396.13" x2="153.20" y2="396.13" stroke="#3a3a3a" stroke-width="1.0"/>
<polyline points="48.50,438.24 82.77,403.74 117.03,405.09 151.30,385.38" fill="none" stroke="#2b2b2b" stroke-width="1.5" stroke-linejoin="round" stroke-linecap="round"/>
<line x1="48.50" y1="438.69" x2="48.50" y2="437.79" stroke="#3a3a3a" stroke-width="0.9"/>
<line x1="46.60" y1="438.69" x2="50.40" y2="438.69" stroke="#3a3a3a" stroke-width="1.0"/>
<line x1="46.60" y1="437.79" x2="50.40" y2="437.79" stroke="#3a3a3a" stroke-width="1.0"/>
<line x1="82.77" y1="404.42" x2="82.77" y2="403.07" stroke="#3a3a3a" stroke-width="0.9"/>
<line x1="80.87" y1="404.42" x2="84.67" y2="404.42" stroke="#3a3a3a" stroke-width="1.0"/>
<line x1="80.87" y1="403.07" x2="84.67" y2="403.07" stroke="#3a3a3a" stroke-width="1.0"/>
<line x1="117.03" y1="406.43" x2="117.03" y2="403.74" stroke="#3a3a3a" stroke-width="0.9"/>
<line x1="115.13" y1="406.43" x2="118.93" y2="406.43" stroke="#3a3a3a" stroke-width="1.0"/>
<line x1="115.13" y1="403.74" x2="118.93" y2="403.74" stroke="#3a3a3a" stroke-width="1.0"/>
<line x1="151.30" y1="391.20" x2="151.30" y2="379.10" stroke="#3a3a3a" stroke-width="0.9"/>
<line x1="149.40" y1="391.20" x2="153.20" y2="391.20" stroke="#3a3a3a" stroke-width="1.0"/>
<line x1="149.40" y1="379.10" x2="153.20" y2="379.10" stroke="#3a3a3a" stroke-width="1.0"/>
<polyline points="48.50,437.57 82.77,403.30 117.03,404.86 151.30,406.88" fill="none" stroke="#8c8c8c" stroke-width="1.5" stroke-linejoin="round" stroke-linecap="round"/>
<line x1="82.77" y1="408.67" x2="82.77" y2="399.26" stroke="#3a3a3a" stroke-width="0.9"/>
<line x1="80.87" y1="408.67" x2="84.67" y2="408.67" stroke="#3a3a3a" stroke-width="1.0"/>
<line x1="80.87" y1="399.26" x2="84.67" y2="399.26" stroke="#3a3a3a" stroke-width="1.0"/>
<line x1="151.30" y1="407.10" x2="151.30" y2="406.66" stroke="#3a3a3a" stroke-width="0.9"/>
<line x1="149.40" y1="407.10" x2="153.20" y2="407.10" stroke="#3a3a3a" stroke-width="1.0"/>
<line x1="149.40" y1="406.66" x2="153.20" y2="406.66" stroke="#3a3a3a" stroke-width="1.0"/>
<line x1="48.50" y1="489.10" x2="48.50" y2="578.30" stroke="#4a4a4a" stroke-width="0.8"/>
<line x1="45.50" y1="578.00" x2="162.50" y2="578.00" stroke="#4a4a4a" stroke-width="0.8"/>
<line x1="45.50" y1="578.00" x2="48.50" y2="578.00" stroke="#4a4a4a" stroke-width="0.8"/>
<line x1="45.50" y1="555.85" x2="48.50" y2="555.85" stroke="#4a4a4a" stroke-width="0.8"/>
<line x1="45.50" y1="533.70" x2="48.50" y2="533.70" stroke="#4a4a4a" stroke-width="0.8"/>
<line x1="45.50" y1="511.55" x2="48.50" y2="511.55" stroke="#4a4a4a" stroke-width="0.8"/>
<line x1="45.50" y1="489.40" x2="48.50" y2="489.40" stroke="#4a4a4a" stroke-width="0.8"/>
<line x1="48.50" y1="578.00" x2="48.50" y2="580.60" stroke="#4a4a4a" stroke-width="0.8"/>
<text x="46.34" y="592.80" font-size="7.7" fill="#2a2a2a" stroke="#2a2a2a" stroke-width="0.1" letter-spacing="0.100" xml:space="preserve">0</text>
<line x1="65.68" y1="578.00" x2="65.68" y2="580.60" stroke="#4a4a4a" stroke-width="0.8"/>
<text x="61.26" y="592.80" font-size="7.7" fill="#2a2a2a" stroke="#2a2a2a" stroke-width="0.1" letter-spacing="0.100" xml:space="preserve">12</text>
<line x1="82.87" y1="578.00" x2="82.87" y2="580.60" stroke="#4a4a4a" stroke-width="0.8"/>
<text x="78.47" y="592.80" font-size="7.7" fill="#2a2a2a" stroke="#2a2a2a" stroke-width="0.1" letter-spacing="0.100" xml:space="preserve">24</text>
<line x1="100.05" y1="578.00" x2="100.05" y2="580.60" stroke="#4a4a4a" stroke-width="0.8"/>
<text x="95.73" y="592.80" font-size="7.7" fill="#2a2a2a" stroke="#2a2a2a" stroke-width="0.1" letter-spacing="0.100" xml:space="preserve">36</text>
<line x1="117.23" y1="578.00" x2="117.23" y2="580.60" stroke="#4a4a4a" stroke-width="0.8"/>
<text x="112.99" y="592.80" font-size="7.7" fill="#2a2a2a" stroke="#2a2a2a" stroke-width="0.1" letter-spacing="0.100" xml:space="preserve">48</text>
<line x1="134.42" y1="578.00" x2="134.42" y2="580.60" stroke="#4a4a4a" stroke-width="0.8"/>
<text x="130.04" y="592.80" font-size="7.7" fill="#2a2a2a" stroke="#2a2a2a" stroke-width="0.1" letter-spacing="0.100" xml:space="preserve">60</text>
<line x1="151.60" y1="578.00" x2="151.60" y2="580.60" stroke="#4a4a4a" stroke-width="0.8"/>
<text x="147.28" y="592.80" font-size="7.7" fill="#2a2a2a" stroke="#2a2a2a" stroke-width="0.1" letter-spacing="0.100" xml:space="preserve">72</text>
<text x="89.88" y="606.30" font-size="8.6" fill="#231f20" stroke="#231f20" stroke-width="0.1" letter-spacing="-0.009" xml:space="preserve">Time (h)</text>
<text x="36.20" y="581.10" font-size="7.7" fill="#2a2a2a" stroke="#2a2a2a" stroke-width="0.1" letter-spacing="0.100" xml:space="preserve">0</text>
<text x="29.61" y="558.95" font-size="7.7" fill="#2a2a2a" stroke="#2a2a2a" stroke-width="0.1" letter-spacing="0.100" xml:space="preserve">0.5</text>
<text x="29.57" y="536.80" font-size="7.7" fill="#2a2a2a" stroke="#2a2a2a" stroke-width="0.1" letter-spacing="0.100" xml:space="preserve">1.0</text>
<text x="29.61" y="514.65" font-size="7.7" fill="#2a2a2a" stroke="#2a2a2a" stroke-width="0.1" letter-spacing="0.100" xml:space="preserve">1.5</text>
<text x="29.57" y="492.50" font-size="7.7" fill="#2a2a2a" stroke="#2a2a2a" stroke-width="0.1" letter-spacing="0.100" xml:space="preserve">2.0</text>
<text x="53.97" y="495.30" font-size="8.4" fill="#231f20" stroke="#231f20" stroke-width="0.1" letter-spacing="0.056" xml:space="preserve">OD</text>
<text x="66.44" y="498.20" font-size="6.3" fill="#231f20" stroke="#231f20" stroke-width="0.1" letter-spacing="0.137" xml:space="preserve">700nm</text>
<text transform="translate(8.3 533.90) rotate(-90)" font-size="8.6" fill="#231f20" stroke="#231f20" stroke-width="0.1" text-anchor="middle" letter-spacing="0.25">Met–Trp4</text>
<text transform="translate(17.7 535.20) rotate(-90)" font-size="8.4" fill="#231f20" stroke="#231f20" stroke-width="0.1" text-anchor="middle" letter-spacing="-0.15">OD<tspan font-size="5.6" dy="2.3" font-style="italic">i</tspan><tspan dy="-2.3"> = 1:1</tspan></text>
<text x="0.85" y="486.20" font-size="12.5" fill="#000" stroke="#000" stroke-width="0.45" letter-spacing="-0.013" font-weight="bold" xml:space="preserve">d</text>
<polyline points="48.50,569.14 82.87,560.28 117.23,531.93 151.60,526.17" fill="none" stroke="#f26b21" stroke-width="1.5" stroke-linejoin="round" stroke-linecap="round"/>
<line x1="151.60" y1="527.94" x2="151.60" y2="523.95" stroke="#3a3a3a" stroke-width="0.9"/>
<line x1="149.70" y1="527.94" x2="153.50" y2="527.94" stroke="#3a3a3a" stroke-width="1.0"/>
<line x1="149.70" y1="523.95" x2="153.50" y2="523.95" stroke="#3a3a3a" stroke-width="1.0"/>
<polyline points="48.50,569.14 82.87,560.72 117.23,531.49 151.60,502.69" fill="none" stroke="#2b2b2b" stroke-width="1.5" stroke-linejoin="round" stroke-linecap="round"/>
<line x1="82.87" y1="562.50" x2="82.87" y2="558.51" stroke="#3a3a3a" stroke-width="0.9"/>
<line x1="80.97" y1="562.50" x2="84.77" y2="562.50" stroke="#3a3a3a" stroke-width="1.0"/>
<line x1="80.97" y1="558.51" x2="84.77" y2="558.51" stroke="#3a3a3a" stroke-width="1.0"/>
<line x1="117.23" y1="531.93" x2="117.23" y2="531.04" stroke="#3a3a3a" stroke-width="0.9"/>
<line x1="115.33" y1="531.93" x2="119.13" y2="531.93" stroke="#3a3a3a" stroke-width="1.0"/>
<line x1="115.33" y1="531.04" x2="119.13" y2="531.04" stroke="#3a3a3a" stroke-width="1.0"/>
<line x1="151.60" y1="508.89" x2="151.60" y2="496.49" stroke="#3a3a3a" stroke-width="0.9"/>
<line x1="149.70" y1="508.89" x2="153.50" y2="508.89" stroke="#3a3a3a" stroke-width="1.0"/>
<line x1="149.70" y1="496.49" x2="153.50" y2="496.49" stroke="#3a3a3a" stroke-width="1.0"/>
<polyline points="48.50,569.14 82.87,540.79 117.23,538.57 151.60,540.35" fill="none" stroke="#a6a6a6" stroke-width="1.5" stroke-linejoin="round" stroke-linecap="round"/>
<line x1="82.87" y1="541.01" x2="82.87" y2="540.57" stroke="#3a3a3a" stroke-width="0.9"/>
<line x1="80.97" y1="541.01" x2="84.77" y2="541.01" stroke="#3a3a3a" stroke-width="1.0"/>
<line x1="80.97" y1="540.57" x2="84.77" y2="540.57" stroke="#3a3a3a" stroke-width="1.0"/>
<line x1="117.23" y1="538.79" x2="117.23" y2="538.35" stroke="#3a3a3a" stroke-width="0.9"/>
<line x1="115.33" y1="538.79" x2="119.13" y2="538.79" stroke="#3a3a3a" stroke-width="1.0"/>
<line x1="115.33" y1="538.35" x2="119.13" y2="538.35" stroke="#3a3a3a" stroke-width="1.0"/>
<line x1="151.60" y1="540.57" x2="151.60" y2="540.12" stroke="#3a3a3a" stroke-width="0.9"/>
<line x1="149.70" y1="540.57" x2="153.50" y2="540.57" stroke="#3a3a3a" stroke-width="1.0"/>
<line x1="149.70" y1="540.12" x2="153.50" y2="540.12" stroke="#3a3a3a" stroke-width="1.0"/>
<line x1="175.00" y1="229.10" x2="175.00" y2="318.50" stroke="#4a4a4a" stroke-width="0.8"/>
<line x1="172.00" y1="318.20" x2="289.80" y2="318.20" stroke="#4a4a4a" stroke-width="0.8"/>
<line x1="172.00" y1="318.20" x2="175.00" y2="318.20" stroke="#4a4a4a" stroke-width="0.8"/>
<line x1="172.00" y1="296.00" x2="175.00" y2="296.00" stroke="#4a4a4a" stroke-width="0.8"/>
<line x1="172.00" y1="273.80" x2="175.00" y2="273.80" stroke="#4a4a4a" stroke-width="0.8"/>
<line x1="172.00" y1="251.60" x2="175.00" y2="251.60" stroke="#4a4a4a" stroke-width="0.8"/>
<line x1="172.00" y1="229.40" x2="175.00" y2="229.40" stroke="#4a4a4a" stroke-width="0.8"/>
<line x1="175.00" y1="318.20" x2="175.00" y2="320.80" stroke="#4a4a4a" stroke-width="0.8"/>
<text x="172.84" y="329.90" font-size="7.7" fill="#2a2a2a" stroke="#2a2a2a" stroke-width="0.1" letter-spacing="0.100" xml:space="preserve">0</text>
<line x1="192.20" y1="318.20" x2="192.20" y2="320.80" stroke="#4a4a4a" stroke-width="0.8"/>
<text x="187.78" y="329.90" font-size="7.7" fill="#2a2a2a" stroke="#2a2a2a" stroke-width="0.1" letter-spacing="0.100" xml:space="preserve">12</text>
<line x1="209.40" y1="318.20" x2="209.40" y2="320.80" stroke="#4a4a4a" stroke-width="0.8"/>
<text x="205.00" y="329.90" font-size="7.7" fill="#2a2a2a" stroke="#2a2a2a" stroke-width="0.1" letter-spacing="0.100" xml:space="preserve">24</text>
<line x1="226.60" y1="318.20" x2="226.60" y2="320.80" stroke="#4a4a4a" stroke-width="0.8"/>
<text x="222.28" y="329.90" font-size="7.7" fill="#2a2a2a" stroke="#2a2a2a" stroke-width="0.1" letter-spacing="0.100" xml:space="preserve">36</text>
<line x1="243.80" y1="318.20" x2="243.80" y2="320.80" stroke="#4a4a4a" stroke-width="0.8"/>
<text x="239.55" y="329.90" font-size="7.7" fill="#2a2a2a" stroke="#2a2a2a" stroke-width="0.1" letter-spacing="0.100" xml:space="preserve">48</text>
<line x1="261.00" y1="318.20" x2="261.00" y2="320.80" stroke="#4a4a4a" stroke-width="0.8"/>
<text x="256.62" y="329.90" font-size="7.7" fill="#2a2a2a" stroke="#2a2a2a" stroke-width="0.1" letter-spacing="0.100" xml:space="preserve">60</text>
<line x1="278.20" y1="318.20" x2="278.20" y2="320.80" stroke="#4a4a4a" stroke-width="0.8"/>
<text x="273.88" y="329.90" font-size="7.7" fill="#2a2a2a" stroke="#2a2a2a" stroke-width="0.1" letter-spacing="0.100" xml:space="preserve">72</text>
<text x="216.38" y="341.20" font-size="8.6" fill="#231f20" stroke="#231f20" stroke-width="0.1" letter-spacing="-0.009" xml:space="preserve">Time (h)</text>
<line x1="218.90" y1="226.00" x2="224.90" y2="226.00" stroke="#a6a6a6" stroke-width="1.4"/>
<text x="228.92" y="228.90" font-size="8.6" fill="#231f20" stroke="#231f20" stroke-width="0.1" letter-spacing="0.450" xml:space="preserve">Control</text>
<line x1="218.90" y1="238.40" x2="224.90" y2="238.40" stroke="#2f5389" stroke-width="1.4"/>
<text transform="translate(229.35 241.30) scale(0.9327 1)" font-size="8.6" fill="#231f20" stroke="#231f20" stroke-width="0.1" xml:space="preserve">AGA1&amp;2</text>
<text x="261.00" y="244.00" font-size="6.2" fill="#231f20" stroke="#231f20" stroke-width="0.1" letter-spacing="0.200" xml:space="preserve">co</text>
<line x1="218.90" y1="250.40" x2="224.90" y2="250.40" stroke="#e0687f" stroke-width="1.4"/>
<text transform="translate(229.00 253.30) scale(0.8941 1)" font-size="8.6" fill="#231f20" stroke="#231f20" stroke-width="0.1" xml:space="preserve">SAG1</text>
<text x="250.00" y="256.00" font-size="6.2" fill="#231f20" stroke="#231f20" stroke-width="0.1" letter-spacing="0.200" xml:space="preserve">co</text>
<line x1="218.90" y1="262.70" x2="224.90" y2="262.70" stroke="#f5a9ba" stroke-width="1.4"/>
<text transform="translate(228.99 265.60) scale(0.9408 1)" font-size="8.6" fill="#231f20" stroke="#231f20" stroke-width="0.1" xml:space="preserve">SAG1–AGA1&amp;2</text>
<text x="287.00" y="268.30" font-size="6.2" fill="#231f20" stroke="#231f20" stroke-width="0.1" letter-spacing="0.200" xml:space="preserve">co</text>
<polyline points="175.00,311.10 175.66,310.96 176.55,310.78 177.60,310.57 178.76,310.33 180.00,310.08 181.25,309.82 182.47,309.56 183.60,309.32 184.67,309.09 185.75,308.86 186.82,308.63 187.90,308.39 188.97,308.15 190.05,307.89 191.12,307.62 192.20,307.32 193.27,307.01 194.35,306.69 195.42,306.35 196.50,306.00 197.57,305.64 198.65,305.26 199.72,304.86 200.80,304.44 201.88,303.99 202.95,303.53 204.03,303.04 205.10,302.54 206.18,302.02 207.25,301.50 208.33,300.97 209.40,300.44 210.47,299.90 211.55,299.34 212.62,298.77 213.70,298.19 214.77,297.62 215.85,297.06 216.92,296.52 218.00,296.00 219.07,295.51 220.15,295.03 221.22,294.57 222.30,294.13 223.38,293.69 224.45,293.27 225.53,292.85 226.60,292.45 227.67,292.04 228.75,291.63 229.82,291.22 230.90,290.82 231.97,290.45 233.05,290.11 234.12,289.81 235.20,289.56 236.22,289.36 237.15,289.21 238.05,289.09 238.96,289.01 239.95,288.95 241.05,288.92 242.31,288.90 243.80,288.90 245.54,288.91 247.50,288.96 249.62,289.03 251.86,289.12 254.17,289.22 256.50,289.33 258.79,289.45 261.00,289.56 263.27,289.69 265.70,289.83 268.21,289.99 270.68,290.16 273.01,290.32 275.11,290.46 276.87,290.58 278.20,290.67" fill="none" stroke="#a6a6a6" stroke-width="1.3" stroke-linejoin="round" stroke-linecap="round"/>
<polyline points="175.00,310.65 175.66,310.52 176.55,310.35 177.60,310.16 178.76,309.93 180.00,309.69 181.25,309.42 182.47,309.15 183.60,308.88 184.67,308.59 185.75,308.28 186.82,307.96 187.90,307.63 188.97,307.28 190.05,306.93 191.12,306.57 192.20,306.21 193.27,305.85 194.35,305.49 195.42,305.12 196.50,304.74 197.57,304.35 198.65,303.95 199.72,303.54 200.80,303.10 201.88,302.65 202.95,302.19 204.03,301.71 205.10,301.22 206.18,300.71 207.25,300.19 208.33,299.66 209.40,299.11 210.47,298.53 211.55,297.93 212.62,297.30 213.70,296.67 214.77,296.03 215.85,295.40 216.92,294.80 218.00,294.22 219.09,293.68 220.22,293.14 221.35,292.62 222.48,292.12 223.58,291.62 224.65,291.14 225.66,290.68 226.60,290.23 227.41,289.78 228.10,289.32 228.71,288.86 229.29,288.42 229.89,288.02 230.56,287.66 231.36,287.35 232.33,287.12 233.45,286.97 234.66,286.90 235.96,286.89 237.35,286.93 238.83,286.98 240.40,287.05 242.05,287.10 243.80,287.12 245.68,287.12 247.70,287.11 249.83,287.10 252.04,287.09 254.30,287.09 256.57,287.09 258.81,287.10 261.00,287.12 263.27,287.16 265.70,287.21 268.21,287.27 270.68,287.34 273.01,287.41 275.11,287.47 276.87,287.53 278.20,287.56" fill="none" stroke="#f5a9ba" stroke-width="1.4" stroke-linejoin="round" stroke-linecap="round"/>
<polyline points="175.00,311.54 175.66,311.37 176.55,311.14 177.60,310.87 178.76,310.57 180.00,310.25 181.25,309.93 182.47,309.61 183.60,309.32 184.67,309.05 185.75,308.78 186.82,308.51 187.90,308.24 188.97,307.97 190.05,307.69 191.12,307.40 192.20,307.10 193.27,306.79 194.35,306.49 195.42,306.17 196.50,305.85 197.57,305.52 198.65,305.17 199.72,304.81 200.80,304.44 201.88,304.03 202.95,303.60 204.03,303.15 205.10,302.69 206.18,302.22 207.25,301.76 208.33,301.31 209.40,300.88 210.49,300.47 211.62,300.07 212.75,299.67 213.88,299.27 214.98,298.89 216.05,298.51 217.06,298.14 218.00,297.78 218.85,297.42 219.63,297.07 220.36,296.72 221.05,296.39 221.71,296.06 222.37,295.74 223.04,295.42 223.73,295.11 224.39,294.81 224.97,294.50 225.51,294.21 226.06,293.92 226.69,293.64 227.43,293.37 228.34,293.12 229.47,292.89 230.83,292.67 232.38,292.45 234.09,292.25 235.92,292.06 237.84,291.89 239.81,291.75 241.81,291.64 243.80,291.56 245.81,291.52 247.90,291.50 250.04,291.51 252.22,291.55 254.42,291.61 256.63,291.71 258.83,291.84 261.00,292.00 263.27,292.23 265.70,292.53 268.21,292.88 270.68,293.25 273.01,293.62 275.11,293.96 276.87,294.24 278.20,294.45" fill="none" stroke="#e0687f" stroke-width="1.4" stroke-linejoin="round" stroke-linecap="round"/>
<polyline points="175.00,310.65 175.66,310.51 176.55,310.33 177.60,310.12 178.76,309.87 180.00,309.62 181.25,309.36 182.47,309.11 183.60,308.88 184.67,308.66 185.75,308.46 186.82,308.27 187.90,308.07 188.97,307.86 190.05,307.64 191.12,307.39 192.20,307.10 193.27,306.78 194.35,306.44 195.42,306.07 196.50,305.68 197.57,305.28 198.65,304.86 199.72,304.43 200.80,303.99 201.88,303.53 202.95,303.06 204.03,302.56 205.10,302.05 206.18,301.53 207.25,301.02 208.33,300.50 209.40,300.00 210.47,299.49 211.55,298.99 212.62,298.48 213.70,297.97 214.77,297.47 215.85,296.97 216.92,296.48 218.00,296.00 219.07,295.53 220.15,295.08 221.22,294.64 222.30,294.20 223.38,293.76 224.45,293.33 225.53,292.89 226.60,292.45 227.67,291.98 228.75,291.49 229.82,290.99 230.90,290.49 231.97,290.02 233.05,289.58 234.12,289.20 235.20,288.90 236.22,288.66 237.15,288.48 238.05,288.36 238.96,288.27 239.95,288.22 241.05,288.20 242.31,288.21 243.80,288.23 245.54,288.28 247.50,288.37 249.62,288.50 251.86,288.65 254.17,288.81 256.50,288.99 258.79,289.17 261.00,289.34 263.27,289.52 265.70,289.73 268.21,289.96 270.68,290.19 273.01,290.41 275.11,290.60 276.87,290.77 278.20,290.89" fill="none" stroke="#2f5389" stroke-width="1.4" stroke-linejoin="round" stroke-linecap="round"/>
<line x1="303.60" y1="229.10" x2="303.60" y2="318.50" stroke="#4a4a4a" stroke-width="0.8"/>
<line x1="300.60" y1="318.20" x2="418.70" y2="318.20" stroke="#4a4a4a" stroke-width="0.8"/>
<line x1="300.60" y1="318.20" x2="303.60" y2="318.20" stroke="#4a4a4a" stroke-width="0.8"/>
<line x1="300.60" y1="296.00" x2="303.60" y2="296.00" stroke="#4a4a4a" stroke-width="0.8"/>
<line x1="300.60" y1="273.80" x2="303.60" y2="273.80" stroke="#4a4a4a" stroke-width="0.8"/>
<line x1="300.60" y1="251.60" x2="303.60" y2="251.60" stroke="#4a4a4a" stroke-width="0.8"/>
<line x1="300.60" y1="229.40" x2="303.60" y2="229.40" stroke="#4a4a4a" stroke-width="0.8"/>
<line x1="303.60" y1="318.20" x2="303.60" y2="320.80" stroke="#4a4a4a" stroke-width="0.8"/>
<text x="301.44" y="329.90" font-size="7.7" fill="#2a2a2a" stroke="#2a2a2a" stroke-width="0.1" letter-spacing="0.100" xml:space="preserve">0</text>
<line x1="320.80" y1="318.20" x2="320.80" y2="320.80" stroke="#4a4a4a" stroke-width="0.8"/>
<text x="316.38" y="329.90" font-size="7.7" fill="#2a2a2a" stroke="#2a2a2a" stroke-width="0.1" letter-spacing="0.100" xml:space="preserve">12</text>
<line x1="338.00" y1="318.20" x2="338.00" y2="320.80" stroke="#4a4a4a" stroke-width="0.8"/>
<text x="333.60" y="329.90" font-size="7.7" fill="#2a2a2a" stroke="#2a2a2a" stroke-width="0.1" letter-spacing="0.100" xml:space="preserve">24</text>
<line x1="355.20" y1="318.20" x2="355.20" y2="320.80" stroke="#4a4a4a" stroke-width="0.8"/>
<text x="350.88" y="329.90" font-size="7.7" fill="#2a2a2a" stroke="#2a2a2a" stroke-width="0.1" letter-spacing="0.100" xml:space="preserve">36</text>
<line x1="372.40" y1="318.20" x2="372.40" y2="320.80" stroke="#4a4a4a" stroke-width="0.8"/>
<text x="368.15" y="329.90" font-size="7.7" fill="#2a2a2a" stroke="#2a2a2a" stroke-width="0.1" letter-spacing="0.100" xml:space="preserve">48</text>
<line x1="389.60" y1="318.20" x2="389.60" y2="320.80" stroke="#4a4a4a" stroke-width="0.8"/>
<text x="385.22" y="329.90" font-size="7.7" fill="#2a2a2a" stroke="#2a2a2a" stroke-width="0.1" letter-spacing="0.100" xml:space="preserve">60</text>
<line x1="406.80" y1="318.20" x2="406.80" y2="320.80" stroke="#4a4a4a" stroke-width="0.8"/>
<text x="402.48" y="329.90" font-size="7.7" fill="#2a2a2a" stroke="#2a2a2a" stroke-width="0.1" letter-spacing="0.100" xml:space="preserve">72</text>
<text x="344.98" y="341.20" font-size="8.6" fill="#231f20" stroke="#231f20" stroke-width="0.1" letter-spacing="-0.009" xml:space="preserve">Time (h)</text>
<line x1="350.80" y1="218.10" x2="356.80" y2="218.10" stroke="#a6a6a6" stroke-width="1.4"/>
<text x="361.02" y="221.00" font-size="8.6" fill="#231f20" stroke="#231f20" stroke-width="0.1" letter-spacing="0.433" xml:space="preserve">Control</text>
<line x1="350.80" y1="230.10" x2="356.80" y2="230.10" stroke="#1d3d78" stroke-width="1.4"/>
<text transform="translate(361.45 233.00) scale(0.9417 1)" font-size="8.6" fill="#231f20" stroke="#231f20" stroke-width="0.1" xml:space="preserve">AGA1&amp;2</text>
<text x="393.40" y="235.70" font-size="6.2" fill="#231f20" stroke="#231f20" stroke-width="0.1" letter-spacing="0.200" xml:space="preserve">co</text>
<line x1="350.80" y1="242.00" x2="356.80" y2="242.00" stroke="#2e5da6" stroke-width="1.4"/>
<text transform="translate(361.45 244.90) scale(0.9756 1)" font-size="8.6" fill="#231f20" stroke="#231f20" stroke-width="0.1" xml:space="preserve">AGA1&amp;2–Ac</text>
<text x="409.20" y="247.60" font-size="6.2" fill="#231f20" stroke="#231f20" stroke-width="0.1" letter-spacing="0.200" xml:space="preserve">co</text>
<line x1="350.80" y1="253.90" x2="356.80" y2="253.90" stroke="#6f96d1" stroke-width="1.4"/>
<text transform="translate(361.45 256.80) scale(0.9771 1)" font-size="8.6" fill="#231f20" stroke="#231f20" stroke-width="0.1" xml:space="preserve">AGA1&amp;2–An</text>
<text x="409.40" y="259.50" font-size="6.2" fill="#231f20" stroke="#231f20" stroke-width="0.1" letter-spacing="0.200" xml:space="preserve">co</text>
<line x1="350.80" y1="265.60" x2="356.80" y2="265.60" stroke="#a9c4ec" stroke-width="1.4"/>
<text transform="translate(361.45 268.50) scale(0.9593 1)" font-size="8.6" fill="#231f20" stroke="#231f20" stroke-width="0.1" xml:space="preserve">AGA1&amp;2–Spy</text>
<text x="413.20" y="271.20" font-size="6.2" fill="#231f20" stroke="#231f20" stroke-width="0.1" letter-spacing="0.200" xml:space="preserve">co</text>
<polyline points="303.60,309.76 304.26,309.63 305.15,309.47 306.20,309.27 307.36,309.04 308.60,308.80 309.85,308.54 311.07,308.26 312.20,307.99 313.28,307.70 314.35,307.39 315.43,307.07 316.50,306.74 317.57,306.39 318.65,306.04 319.72,305.68 320.80,305.32 321.88,304.96 322.95,304.59 324.03,304.21 325.10,303.83 326.18,303.43 327.25,303.03 328.33,302.63 329.40,302.22 330.48,301.80 331.55,301.37 332.63,300.94 333.70,300.50 334.77,300.05 335.85,299.59 336.92,299.13 338.00,298.66 339.07,298.18 340.15,297.68 341.23,297.16 342.30,296.64 343.38,296.12 344.45,295.61 345.53,295.13 346.60,294.67 347.66,294.23 348.68,293.80 349.70,293.38 350.72,292.98 351.77,292.59 352.85,292.22 353.99,291.88 355.20,291.56 356.54,291.26 358.00,290.98 359.54,290.72 361.11,290.48 362.66,290.26 364.14,290.07 365.49,289.91 366.67,289.78 367.58,289.69 368.23,289.64 368.73,289.61 369.18,289.62 369.66,289.64 370.29,289.68 371.17,289.73 372.40,289.78 374.00,289.85 375.89,289.93 378.01,290.03 380.28,290.14 382.65,290.27 385.03,290.40 387.37,290.53 389.60,290.67 391.87,290.83 394.30,291.00 396.81,291.20 399.28,291.39 401.61,291.58 403.71,291.75 405.47,291.90 406.80,292.00" fill="none" stroke="#a9c4ec" stroke-width="1.4" stroke-linejoin="round" stroke-linecap="round"/>
<polyline points="303.60,310.21 304.26,310.08 305.15,309.91 306.20,309.71 307.36,309.49 308.60,309.24 309.85,308.98 311.07,308.71 312.20,308.43 313.28,308.14 314.35,307.84 315.43,307.52 316.50,307.18 317.57,306.84 318.65,306.49 319.72,306.13 320.80,305.77 321.88,305.41 322.95,305.05 324.03,304.69 325.10,304.32 326.18,303.94 327.25,303.54 328.33,303.12 329.40,302.66 330.48,302.17 331.55,301.63 332.63,301.07 333.70,300.50 334.77,299.91 335.85,299.33 336.92,298.76 338.00,298.22 339.07,297.70 340.15,297.18 341.23,296.67 342.30,296.17 343.38,295.67 344.45,295.18 345.53,294.70 346.60,294.22 347.68,293.75 348.75,293.27 349.83,292.80 350.90,292.34 351.98,291.89 353.05,291.46 354.13,291.05 355.20,290.67 356.28,290.32 357.35,289.97 358.43,289.64 359.50,289.34 360.58,289.06 361.65,288.82 362.72,288.61 363.80,288.45 364.82,288.34 365.75,288.28 366.65,288.25 367.56,288.26 368.55,288.29 369.65,288.34 370.91,288.39 372.40,288.45 374.14,288.52 376.10,288.60 378.22,288.70 380.46,288.81 382.77,288.94 385.10,289.07 387.39,289.20 389.60,289.34 391.87,289.49 394.30,289.67 396.81,289.87 399.28,290.06 401.61,290.25 403.71,290.42 405.47,290.57 406.80,290.67" fill="none" stroke="#a6a6a6" stroke-width="1.3" stroke-linejoin="round" stroke-linecap="round"/>
<polyline points="303.60,309.76 304.26,309.60 305.15,309.38 306.20,309.11 307.36,308.82 308.60,308.51 309.85,308.18 311.07,307.86 312.20,307.54 313.28,307.24 314.35,306.92 315.43,306.61 316.50,306.28 317.57,305.95 318.65,305.60 319.72,305.25 320.80,304.88 321.88,304.50 322.95,304.12 324.03,303.72 325.10,303.31 326.18,302.89 327.25,302.46 328.33,302.01 329.40,301.55 330.48,301.06 331.55,300.55 332.63,300.02 333.70,299.48 334.77,298.94 335.85,298.39 336.92,297.85 338.00,297.33 339.07,296.82 340.15,296.30 341.23,295.78 342.30,295.26 343.38,294.76 344.45,294.27 345.53,293.79 346.60,293.34 347.68,292.90 348.75,292.47 349.83,292.05 350.90,291.64 351.98,291.26 353.05,290.89 354.13,290.55 355.20,290.23 356.28,289.93 357.35,289.65 358.43,289.39 359.50,289.15 360.58,288.93 361.65,288.74 362.72,288.58 363.80,288.45 364.82,288.36 365.75,288.32 366.65,288.30 367.56,288.31 368.55,288.34 369.65,288.38 370.91,288.42 372.40,288.45 374.14,288.48 376.10,288.50 378.22,288.53 380.46,288.56 382.77,288.61 385.10,288.68 387.39,288.77 389.60,288.90 391.87,289.07 394.30,289.29 396.81,289.54 399.28,289.81 401.61,290.08 403.71,290.32 405.47,290.53 406.80,290.67" fill="none" stroke="#6f96d1" stroke-width="1.4" stroke-linejoin="round" stroke-linecap="round"/>
<polyline points="303.60,309.32 304.26,309.15 305.15,308.93 306.20,308.67 307.36,308.38 308.60,308.06 309.85,307.74 311.07,307.41 312.20,307.10 313.28,306.79 314.35,306.49 315.43,306.17 316.50,305.85 317.57,305.52 318.65,305.17 319.72,304.81 320.80,304.44 321.88,304.04 322.95,303.63 324.03,303.21 325.10,302.77 326.18,302.32 327.25,301.86 328.33,301.38 329.40,300.88 330.48,300.37 331.55,299.84 332.63,299.28 333.70,298.72 334.77,298.15 335.85,297.57 336.92,297.01 338.00,296.44 339.07,295.88 340.15,295.30 341.23,294.72 342.30,294.14 343.38,293.57 344.45,293.02 345.53,292.50 346.60,292.00 347.69,291.54 348.82,291.10 349.95,290.68 351.08,290.28 352.18,289.91 353.25,289.55 354.26,289.21 355.20,288.90 356.01,288.60 356.70,288.31 357.31,288.03 357.89,287.79 358.49,287.56 359.16,287.38 359.96,287.23 360.93,287.12 362.05,287.07 363.26,287.08 364.56,287.13 365.95,287.22 367.43,287.32 369.00,287.42 370.65,287.50 372.40,287.56 374.28,287.60 376.30,287.62 378.43,287.63 380.64,287.65 382.90,287.66 385.17,287.69 387.41,287.73 389.60,287.79 391.87,287.87 394.30,287.98 396.81,288.11 399.28,288.24 401.61,288.38 403.71,288.50 405.47,288.60 406.80,288.67" fill="none" stroke="#1d3d78" stroke-width="1.4" stroke-linejoin="round" stroke-linecap="round"/>
<polyline points="303.60,309.32 304.26,309.15 305.15,308.93 306.20,308.67 307.36,308.38 308.60,308.06 309.85,307.74 311.07,307.41 312.20,307.10 313.28,306.79 314.35,306.49 315.43,306.17 316.50,305.85 317.57,305.52 318.65,305.17 319.72,304.81 320.80,304.44 321.88,304.04 322.95,303.63 324.03,303.21 325.10,302.77 326.18,302.32 327.25,301.86 328.33,301.38 329.40,300.88 330.48,300.37 331.55,299.84 332.63,299.28 333.70,298.72 334.77,298.15 335.85,297.57 336.92,297.01 338.00,296.44 339.07,295.88 340.15,295.30 341.23,294.72 342.30,294.14 343.38,293.57 344.45,293.02 345.53,292.50 346.60,292.00 347.69,291.54 348.82,291.10 349.95,290.68 351.08,290.28 352.18,289.91 353.25,289.55 354.26,289.21 355.20,288.90 356.01,288.60 356.70,288.31 357.31,288.03 357.89,287.79 358.49,287.56 359.16,287.38 359.96,287.23 360.93,287.12 362.05,287.07 363.26,287.07 364.56,287.12 365.95,287.20 367.43,287.30 369.00,287.40 370.65,287.49 372.40,287.56 374.28,287.61 376.30,287.66 378.43,287.70 380.64,287.74 382.90,287.79 385.17,287.85 387.41,287.92 389.60,288.01 391.87,288.12 394.30,288.26 396.81,288.42 399.28,288.59 401.61,288.75 403.71,288.90 405.47,289.03 406.80,289.12" fill="none" stroke="#2e5da6" stroke-width="1.4" stroke-linejoin="round" stroke-linecap="round"/>
<line x1="433.50" y1="228.30" x2="433.50" y2="317.90" stroke="#4a4a4a" stroke-width="0.8"/>
<line x1="430.50" y1="317.60" x2="548.10" y2="317.60" stroke="#4a4a4a" stroke-width="0.8"/>
<line x1="430.50" y1="317.60" x2="433.50" y2="317.60" stroke="#4a4a4a" stroke-width="0.8"/>
<line x1="430.50" y1="295.35" x2="433.50" y2="295.35" stroke="#4a4a4a" stroke-width="0.8"/>
<line x1="430.50" y1="273.10" x2="433.50" y2="273.10" stroke="#4a4a4a" stroke-width="0.8"/>
<line x1="430.50" y1="250.85" x2="433.50" y2="250.85" stroke="#4a4a4a" stroke-width="0.8"/>
<line x1="430.50" y1="228.60" x2="433.50" y2="228.60" stroke="#4a4a4a" stroke-width="0.8"/>
<line x1="433.50" y1="317.60" x2="433.50" y2="320.20" stroke="#4a4a4a" stroke-width="0.8"/>
<text x="431.34" y="329.90" font-size="7.7" fill="#2a2a2a" stroke="#2a2a2a" stroke-width="0.1" letter-spacing="0.100" xml:space="preserve">0</text>
<line x1="450.70" y1="317.60" x2="450.70" y2="320.20" stroke="#4a4a4a" stroke-width="0.8"/>
<text x="446.28" y="329.90" font-size="7.7" fill="#2a2a2a" stroke="#2a2a2a" stroke-width="0.1" letter-spacing="0.100" xml:space="preserve">12</text>
<line x1="467.90" y1="317.60" x2="467.90" y2="320.20" stroke="#4a4a4a" stroke-width="0.8"/>
<text x="463.50" y="329.90" font-size="7.7" fill="#2a2a2a" stroke="#2a2a2a" stroke-width="0.1" letter-spacing="0.100" xml:space="preserve">24</text>
<line x1="485.10" y1="317.60" x2="485.10" y2="320.20" stroke="#4a4a4a" stroke-width="0.8"/>
<text x="480.78" y="329.90" font-size="7.7" fill="#2a2a2a" stroke="#2a2a2a" stroke-width="0.1" letter-spacing="0.100" xml:space="preserve">36</text>
<line x1="502.30" y1="317.60" x2="502.30" y2="320.20" stroke="#4a4a4a" stroke-width="0.8"/>
<text x="498.05" y="329.90" font-size="7.7" fill="#2a2a2a" stroke="#2a2a2a" stroke-width="0.1" letter-spacing="0.100" xml:space="preserve">48</text>
<line x1="519.50" y1="317.60" x2="519.50" y2="320.20" stroke="#4a4a4a" stroke-width="0.8"/>
<text x="515.12" y="329.90" font-size="7.7" fill="#2a2a2a" stroke="#2a2a2a" stroke-width="0.1" letter-spacing="0.100" xml:space="preserve">60</text>
<line x1="536.70" y1="317.60" x2="536.70" y2="320.20" stroke="#4a4a4a" stroke-width="0.8"/>
<text x="532.38" y="329.90" font-size="7.7" fill="#2a2a2a" stroke="#2a2a2a" stroke-width="0.1" letter-spacing="0.100" xml:space="preserve">72</text>
<text x="474.88" y="341.20" font-size="8.6" fill="#231f20" stroke="#231f20" stroke-width="0.1" letter-spacing="-0.009" xml:space="preserve">Time (h)</text>
<line x1="488.90" y1="217.20" x2="494.90" y2="217.20" stroke="#a6a6a6" stroke-width="1.4"/>
<text x="498.72" y="220.10" font-size="8.6" fill="#231f20" stroke="#231f20" stroke-width="0.1" letter-spacing="0.433" xml:space="preserve">Control</text>
<line x1="488.90" y1="229.80" x2="494.90" y2="229.80" stroke="#187a78" stroke-width="1.4"/>
<text x="498.46" y="232.70" font-size="8.6" fill="#231f20" stroke="#231f20" stroke-width="0.1" letter-spacing="-0.054" xml:space="preserve">FLO5N</text>
<text x="526.10" y="235.40" font-size="6.2" fill="#231f20" stroke="#231f20" stroke-width="0.1" letter-spacing="0.200" xml:space="preserve">co</text>
<line x1="488.90" y1="241.80" x2="494.90" y2="241.80" stroke="#24958f" stroke-width="1.4"/>
<text x="498.46" y="244.70" font-size="8.6" fill="#231f20" stroke="#231f20" stroke-width="0.1" letter-spacing="-0.046" xml:space="preserve">FLO5N–Ac</text>
<text x="541.30" y="247.40" font-size="6.2" fill="#231f20" stroke="#231f20" stroke-width="0.1" letter-spacing="0.200" xml:space="preserve">co</text>
<line x1="488.90" y1="253.60" x2="494.90" y2="253.60" stroke="#4ab8b0" stroke-width="1.4"/>
<text x="498.46" y="256.50" font-size="8.6" fill="#231f20" stroke="#231f20" stroke-width="0.1" letter-spacing="-0.050" xml:space="preserve">FLO5N–An</text>
<text x="541.40" y="259.20" font-size="6.2" fill="#231f20" stroke="#231f20" stroke-width="0.1" letter-spacing="0.200" xml:space="preserve">co</text>
<line x1="488.90" y1="265.80" x2="494.90" y2="265.80" stroke="#7dd6d6" stroke-width="1.4"/>
<text x="498.46" y="268.70" font-size="8.6" fill="#231f20" stroke="#231f20" stroke-width="0.1" letter-spacing="-0.057" xml:space="preserve">FLO5N–Spy</text>
<text x="546.20" y="271.40" font-size="6.2" fill="#231f20" stroke="#231f20" stroke-width="0.1" letter-spacing="0.200" xml:space="preserve">co</text>
<polyline points="433.50,309.59 434.16,309.53 435.05,309.47 436.10,309.40 437.26,309.31 438.50,309.20 439.75,309.07 440.97,308.90 442.10,308.70 443.18,308.45 444.25,308.16 445.33,307.83 446.40,307.48 447.48,307.11 448.55,306.74 449.63,306.38 450.70,306.03 451.77,305.70 452.85,305.38 453.93,305.07 455.00,304.75 456.07,304.43 457.15,304.09 458.22,303.74 459.30,303.36 460.38,302.96 461.45,302.55 462.53,302.13 463.60,301.69 464.68,301.24 465.75,300.77 466.83,300.29 467.90,299.80 468.98,299.29 470.05,298.75 471.13,298.20 472.20,297.63 473.28,297.06 474.35,296.48 475.43,295.91 476.50,295.35 477.57,294.79 478.65,294.22 479.73,293.64 480.80,293.07 481.88,292.50 482.95,291.95 484.03,291.41 485.10,290.90 486.18,290.39 487.25,289.85 488.33,289.32 489.40,288.81 490.48,288.34 491.55,287.93 492.63,287.59 493.70,287.34 494.72,287.20 495.65,287.17 496.55,287.21 497.46,287.31 498.45,287.44 499.55,287.58 500.81,287.70 502.30,287.79 504.04,287.83 506.00,287.86 508.12,287.89 510.36,287.92 512.67,287.97 515.00,288.02 517.29,288.11 519.50,288.23 521.77,288.40 524.20,288.62 526.71,288.88 529.17,289.15 531.51,289.41 533.61,289.66 535.37,289.86 536.70,290.01" fill="none" stroke="#a6a6a6" stroke-width="1.3" stroke-linejoin="round" stroke-linecap="round"/>
<polyline points="433.50,308.70 434.16,308.64 435.05,308.56 436.10,308.47 437.26,308.37 438.50,308.25 439.75,308.12 440.97,307.97 442.10,307.81 443.18,307.64 444.25,307.45 445.33,307.25 446.40,307.03 447.48,306.80 448.55,306.56 449.63,306.30 450.70,306.03 451.77,305.74 452.85,305.43 453.93,305.09 455.00,304.75 456.07,304.40 457.15,304.05 458.22,303.70 459.30,303.36 460.38,303.03 461.45,302.70 462.53,302.38 463.60,302.05 464.68,301.72 465.75,301.39 466.83,301.05 467.90,300.69 468.98,300.32 470.05,299.94 471.13,299.55 472.20,299.16 473.28,298.76 474.35,298.36 475.43,297.97 476.50,297.58 477.57,297.19 478.65,296.81 479.73,296.43 480.80,296.05 481.88,295.66 482.95,295.27 484.03,294.87 485.10,294.46 486.18,294.02 487.25,293.54 488.33,293.04 489.40,292.54 490.48,292.06 491.55,291.61 492.63,291.22 493.70,290.90 494.72,290.65 495.65,290.46 496.55,290.31 497.46,290.20 498.45,290.13 499.55,290.08 500.81,290.04 502.30,290.01 504.04,289.99 506.00,290.00 508.12,290.02 510.36,290.07 512.67,290.13 515.00,290.22 517.29,290.33 519.50,290.46 521.77,290.63 524.20,290.85 526.71,291.10 529.17,291.37 531.51,291.64 533.61,291.88 535.37,292.09 536.70,292.24" fill="none" stroke="#7dd6d6" stroke-width="1.4" stroke-linejoin="round" stroke-linecap="round"/>
<polyline points="433.50,307.81 433.83,307.69 434.27,307.52 434.80,307.31 435.38,307.09 436.00,306.87 436.62,306.68 437.23,306.54 437.80,306.48 438.31,306.50 438.77,306.60 439.22,306.76 439.68,306.95 440.17,307.13 440.72,307.28 441.36,307.37 442.10,307.37 442.97,307.29 443.95,307.19 445.01,307.05 446.13,306.86 447.29,306.63 448.45,306.34 449.60,306.00 450.70,305.59 451.77,305.11 452.85,304.57 453.93,303.98 455.00,303.33 456.07,302.63 457.15,301.88 458.22,301.09 459.30,300.25 460.38,299.33 461.45,298.31 462.53,297.22 463.60,296.10 464.68,294.97 465.75,293.85 466.83,292.78 467.90,291.79 468.99,290.84 470.12,289.88 471.25,288.94 472.38,288.04 473.48,287.18 474.55,286.40 475.56,285.70 476.50,285.12 477.33,284.65 478.07,284.29 478.73,284.03 479.37,283.84 480.00,283.69 480.67,283.57 481.40,283.46 482.23,283.34 483.15,283.21 484.11,283.11 485.12,283.04 486.18,282.99 487.27,282.95 488.41,282.92 489.60,282.90 490.83,282.89 492.09,282.89 493.36,282.90 494.67,282.92 496.03,282.96 497.45,283.00 498.96,283.04 500.57,283.08 502.30,283.11 504.18,283.13 506.20,283.12 508.33,283.11 510.54,283.10 512.80,283.10 515.07,283.14 517.31,283.21 519.50,283.34 521.77,283.53 524.20,283.80 526.71,284.12 529.17,284.46 531.51,284.80 533.61,285.11 535.37,285.37 536.70,285.56" fill="none" stroke="#4ab8b0" stroke-width="1.4" stroke-linejoin="round" stroke-linecap="round"/>
<polyline points="433.50,308.25 434.16,308.19 435.05,308.11 436.10,308.02 437.26,307.91 438.50,307.79 439.75,307.66 440.97,307.51 442.10,307.37 443.18,307.22 444.25,307.10 445.33,306.97 446.40,306.82 447.48,306.65 448.55,306.43 449.63,306.16 450.70,305.81 451.77,305.40 452.85,304.94 453.93,304.43 455.00,303.87 456.07,303.27 457.15,302.61 458.22,301.90 459.30,301.13 460.38,300.29 461.45,299.35 462.53,298.34 463.60,297.28 464.68,296.21 465.75,295.14 466.83,294.11 467.90,293.12 468.98,292.16 470.05,291.17 471.13,290.18 472.20,289.22 473.28,288.29 474.35,287.44 475.43,286.67 476.50,286.00 477.59,285.46 478.72,285.02 479.85,284.67 480.98,284.38 482.08,284.14 483.15,283.93 484.16,283.75 485.10,283.56 485.91,283.38 486.60,283.24 487.21,283.14 487.79,283.06 488.39,283.00 489.06,282.95 489.86,282.92 490.83,282.89 491.95,282.88 493.16,282.88 494.46,282.91 495.85,282.95 497.33,282.99 498.90,283.04 500.55,283.08 502.30,283.11 504.18,283.13 506.20,283.12 508.33,283.11 510.54,283.10 512.80,283.10 515.07,283.14 517.31,283.21 519.50,283.34 521.77,283.53 524.20,283.80 526.71,284.12 529.17,284.46 531.51,284.80 533.61,285.11 535.37,285.37 536.70,285.56" fill="none" stroke="#24958f" stroke-width="1.4" stroke-linejoin="round" stroke-linecap="round"/>
<polyline points="433.50,307.81 434.16,307.78 435.05,307.75 436.10,307.71 437.26,307.67 438.50,307.62 439.75,307.55 440.97,307.47 442.10,307.37 443.18,307.26 444.25,307.17 445.33,307.07 446.40,306.95 447.48,306.80 448.55,306.60 449.63,306.35 450.70,306.03 451.77,305.64 452.85,305.20 453.93,304.71 455.00,304.17 456.07,303.58 457.15,302.95 458.22,302.29 459.30,301.58 460.38,300.82 461.45,299.99 462.53,299.11 463.60,298.19 464.68,297.25 465.75,296.30 466.83,295.37 467.90,294.46 468.98,293.54 470.05,292.59 471.13,291.62 472.20,290.66 473.28,289.73 474.35,288.85 475.43,288.05 476.50,287.34 477.59,286.73 478.72,286.19 479.85,285.71 480.98,285.30 482.08,284.92 483.15,284.59 484.16,284.29 485.10,284.00 485.91,283.75 486.60,283.54 487.21,283.36 487.79,283.22 488.39,283.11 489.06,283.02 489.86,282.95 490.83,282.89 491.95,282.85 493.16,282.85 494.46,282.88 495.85,282.92 497.33,282.97 498.90,283.03 500.55,283.08 502.30,283.11 504.18,283.13 506.20,283.13 508.33,283.12 510.54,283.11 512.80,283.12 515.07,283.15 517.31,283.22 519.50,283.34 521.77,283.51 524.20,283.76 526.71,284.04 529.17,284.35 531.51,284.66 533.61,284.94 535.37,285.17 536.70,285.34" fill="none" stroke="#187a78" stroke-width="1.9" stroke-linejoin="round" stroke-linecap="round"/>
<line x1="562.00" y1="228.60" x2="562.00" y2="318.30" stroke="#4a4a4a" stroke-width="0.8"/>
<line x1="559.00" y1="318.00" x2="677.00" y2="318.00" stroke="#4a4a4a" stroke-width="0.8"/>
<line x1="559.00" y1="318.00" x2="562.00" y2="318.00" stroke="#4a4a4a" stroke-width="0.8"/>
<line x1="559.00" y1="295.73" x2="562.00" y2="295.73" stroke="#4a4a4a" stroke-width="0.8"/>
<line x1="559.00" y1="273.45" x2="562.00" y2="273.45" stroke="#4a4a4a" stroke-width="0.8"/>
<line x1="559.00" y1="251.18" x2="562.00" y2="251.18" stroke="#4a4a4a" stroke-width="0.8"/>
<line x1="559.00" y1="228.90" x2="562.00" y2="228.90" stroke="#4a4a4a" stroke-width="0.8"/>
<line x1="562.00" y1="318.00" x2="562.00" y2="320.60" stroke="#4a4a4a" stroke-width="0.8"/>
<text x="559.84" y="329.90" font-size="7.7" fill="#2a2a2a" stroke="#2a2a2a" stroke-width="0.1" letter-spacing="0.100" xml:space="preserve">0</text>
<line x1="579.20" y1="318.00" x2="579.20" y2="320.60" stroke="#4a4a4a" stroke-width="0.8"/>
<text x="574.78" y="329.90" font-size="7.7" fill="#2a2a2a" stroke="#2a2a2a" stroke-width="0.1" letter-spacing="0.100" xml:space="preserve">12</text>
<line x1="596.40" y1="318.00" x2="596.40" y2="320.60" stroke="#4a4a4a" stroke-width="0.8"/>
<text x="592.00" y="329.90" font-size="7.7" fill="#2a2a2a" stroke="#2a2a2a" stroke-width="0.1" letter-spacing="0.100" xml:space="preserve">24</text>
<line x1="613.60" y1="318.00" x2="613.60" y2="320.60" stroke="#4a4a4a" stroke-width="0.8"/>
<text x="609.28" y="329.90" font-size="7.7" fill="#2a2a2a" stroke="#2a2a2a" stroke-width="0.1" letter-spacing="0.100" xml:space="preserve">36</text>
<line x1="630.80" y1="318.00" x2="630.80" y2="320.60" stroke="#4a4a4a" stroke-width="0.8"/>
<text x="626.55" y="329.90" font-size="7.7" fill="#2a2a2a" stroke="#2a2a2a" stroke-width="0.1" letter-spacing="0.100" xml:space="preserve">48</text>
<line x1="648.00" y1="318.00" x2="648.00" y2="320.60" stroke="#4a4a4a" stroke-width="0.8"/>
<text x="643.62" y="329.90" font-size="7.7" fill="#2a2a2a" stroke="#2a2a2a" stroke-width="0.1" letter-spacing="0.100" xml:space="preserve">60</text>
<line x1="665.20" y1="318.00" x2="665.20" y2="320.60" stroke="#4a4a4a" stroke-width="0.8"/>
<text x="660.88" y="329.90" font-size="7.7" fill="#2a2a2a" stroke="#2a2a2a" stroke-width="0.1" letter-spacing="0.100" xml:space="preserve">72</text>
<text x="603.38" y="341.20" font-size="8.6" fill="#231f20" stroke="#231f20" stroke-width="0.1" letter-spacing="-0.009" xml:space="preserve">Time (h)</text>
<line x1="620.10" y1="218.00" x2="626.10" y2="218.00" stroke="#a6a6a6" stroke-width="1.4"/>
<text x="630.72" y="220.90" font-size="8.6" fill="#231f20" stroke="#231f20" stroke-width="0.1" letter-spacing="0.433" xml:space="preserve">Control</text>
<line x1="620.10" y1="229.80" x2="626.10" y2="229.80" stroke="#4b2a7f" stroke-width="1.4"/>
<text transform="translate(630.50 232.70) scale(0.9400 1)" font-size="8.6" fill="#231f20" stroke="#231f20" stroke-width="0.1" xml:space="preserve">FLO5C</text>
<text x="657.10" y="235.40" font-size="6.2" fill="#231f20" stroke="#231f20" stroke-width="0.1" letter-spacing="0.200" xml:space="preserve">co</text>
<line x1="620.10" y1="241.60" x2="626.10" y2="241.60" stroke="#6a40a0" stroke-width="1.4"/>
<text x="630.46" y="244.50" font-size="8.6" fill="#231f20" stroke="#231f20" stroke-width="0.1" letter-spacing="0.039" xml:space="preserve">FLO5C–Ac</text>
<text x="673.90" y="247.20" font-size="6.2" fill="#231f20" stroke="#231f20" stroke-width="0.1" letter-spacing="0.200" xml:space="preserve">co</text>
<line x1="620.10" y1="253.30" x2="626.10" y2="253.30" stroke="#9b72c9" stroke-width="1.4"/>
<text x="630.46" y="256.20" font-size="8.6" fill="#231f20" stroke="#231f20" stroke-width="0.1" letter-spacing="0.035" xml:space="preserve">FLO5C–An</text>
<text x="674.00" y="258.90" font-size="6.2" fill="#231f20" stroke="#231f20" stroke-width="0.1" letter-spacing="0.200" xml:space="preserve">co</text>
<line x1="620.10" y1="265.00" x2="626.10" y2="265.00" stroke="#d3bcee" stroke-width="1.4"/>
<text x="630.46" y="267.90" font-size="8.6" fill="#231f20" stroke="#231f20" stroke-width="0.1" letter-spacing="-0.019" xml:space="preserve">FLO5C–Spy</text>
<text x="678.50" y="270.60" font-size="6.2" fill="#231f20" stroke="#231f20" stroke-width="0.1" letter-spacing="0.200" xml:space="preserve">co</text>
<polyline points="562.00,310.43 562.66,310.29 563.55,310.12 564.60,309.91 565.76,309.67 567.00,309.42 568.25,309.16 569.47,308.90 570.60,308.64 571.68,308.39 572.75,308.14 573.83,307.88 574.90,307.61 575.98,307.34 577.05,307.05 578.13,306.74 579.20,306.42 580.28,306.08 581.35,305.74 582.43,305.39 583.50,305.02 584.58,304.64 585.65,304.22 586.73,303.78 587.80,303.30 588.88,302.77 589.95,302.18 591.02,301.55 592.10,300.90 593.17,300.25 594.25,299.60 595.32,298.98 596.40,298.40 597.48,297.85 598.55,297.32 599.62,296.81 600.70,296.31 601.77,295.82 602.85,295.34 603.92,294.86 605.00,294.39 606.08,293.92 607.15,293.45 608.23,292.99 609.30,292.54 610.38,292.09 611.45,291.66 612.52,291.23 613.60,290.82 614.68,290.41 615.75,289.98 616.83,289.54 617.90,289.13 618.98,288.74 620.05,288.40 621.12,288.13 622.20,287.93 623.22,287.82 624.15,287.80 625.05,287.84 625.96,287.93 626.95,288.04 628.05,288.17 629.31,288.29 630.80,288.37 632.54,288.45 634.50,288.52 636.62,288.60 638.86,288.68 641.17,288.77 643.50,288.85 645.79,288.95 648.00,289.04 650.27,289.15 652.70,289.27 655.21,289.40 657.67,289.53 660.01,289.65 662.11,289.77 663.87,289.86 665.20,289.93" fill="none" stroke="#a6a6a6" stroke-width="1.3" stroke-linejoin="round" stroke-linecap="round"/>
<polyline points="562.00,309.09 562.66,308.95 563.55,308.76 564.60,308.53 565.76,308.28 567.00,308.02 568.25,307.76 569.47,307.52 570.60,307.31 571.70,307.12 572.85,306.93 574.01,306.75 575.17,306.58 576.29,306.42 577.35,306.26 578.33,306.11 579.20,305.97 579.94,305.85 580.58,305.76 581.13,305.68 581.62,305.61 582.08,305.53 582.53,305.42 582.99,305.27 583.50,305.08 584.01,304.86 584.47,304.62 584.92,304.37 585.38,304.08 585.87,303.75 586.42,303.37 587.06,302.92 587.80,302.41 588.67,301.80 589.65,301.11 590.71,300.36 591.83,299.55 592.99,298.71 594.15,297.86 595.30,297.01 596.40,296.17 597.48,295.33 598.55,294.44 599.62,293.54 600.70,292.63 601.77,291.74 602.85,290.87 603.92,290.04 605.00,289.27 606.08,288.54 607.15,287.83 608.23,287.15 609.30,286.51 610.38,285.90 611.45,285.34 612.52,284.83 613.60,284.36 614.68,283.96 615.75,283.60 616.83,283.29 617.90,283.03 618.98,282.81 620.05,282.62 621.12,282.47 622.20,282.36 623.22,282.30 624.15,282.30 625.05,282.35 625.96,282.43 626.95,282.53 628.05,282.64 629.31,282.73 630.80,282.81 632.54,282.85 634.50,282.87 636.62,282.88 638.86,282.90 641.17,282.94 643.50,283.00 645.79,283.10 648.00,283.25 650.27,283.48 652.70,283.78 655.21,284.13 657.67,284.50 660.01,284.87 662.11,285.21 663.87,285.50 665.20,285.70" fill="none" stroke="#d3bcee" stroke-width="1.4" stroke-linejoin="round" stroke-linecap="round"/>
<polyline points="562.00,309.09 562.66,308.95 563.55,308.76 564.60,308.53 565.76,308.28 567.00,308.02 568.25,307.76 569.47,307.52 570.60,307.31 571.70,307.12 572.85,306.93 574.01,306.75 575.17,306.58 576.29,306.42 577.35,306.26 578.33,306.11 579.20,305.97 579.94,305.85 580.58,305.76 581.13,305.68 581.62,305.61 582.08,305.53 582.53,305.42 582.99,305.27 583.50,305.08 584.01,304.86 584.47,304.62 584.92,304.37 585.38,304.08 585.87,303.75 586.42,303.37 587.06,302.92 587.80,302.41 588.67,301.80 589.65,301.11 590.71,300.36 591.83,299.55 592.99,298.71 594.15,297.86 595.30,297.01 596.40,296.17 597.48,295.33 598.55,294.44 599.62,293.54 600.70,292.63 601.77,291.74 602.85,290.87 603.92,290.04 605.00,289.27 606.08,288.54 607.15,287.83 608.23,287.15 609.30,286.51 610.38,285.90 611.45,285.34 612.52,284.83 613.60,284.36 614.68,283.96 615.75,283.60 616.83,283.29 617.90,283.03 618.98,282.81 620.05,282.62 621.12,282.47 622.20,282.36 623.22,282.30 624.15,282.29 625.05,282.34 625.96,282.42 626.95,282.51 628.05,282.62 629.31,282.72 630.80,282.81 632.54,282.86 634.50,282.91 636.62,282.95 638.86,283.00 641.17,283.07 643.50,283.16 645.79,283.29 648.00,283.47 650.27,283.73 652.70,284.06 655.21,284.45 657.67,284.85 660.01,285.25 662.11,285.62 663.87,285.93 665.20,286.15" fill="none" stroke="#9b72c9" stroke-width="1.4" stroke-linejoin="round" stroke-linecap="round"/>
<polyline points="562.00,309.09 562.66,308.95 563.55,308.76 564.60,308.53 565.76,308.28 567.00,308.02 568.25,307.76 569.47,307.52 570.60,307.31 571.70,307.12 572.85,306.93 574.01,306.75 575.17,306.58 576.29,306.42 577.35,306.26 578.33,306.11 579.20,305.97 579.94,305.85 580.58,305.76 581.13,305.68 581.62,305.61 582.08,305.53 582.53,305.42 582.99,305.27 583.50,305.08 584.01,304.86 584.47,304.62 584.92,304.37 585.38,304.08 585.87,303.75 586.42,303.37 587.06,302.92 587.80,302.41 588.67,301.80 589.65,301.11 590.71,300.36 591.83,299.55 592.99,298.71 594.15,297.86 595.30,297.01 596.40,296.17 597.48,295.33 598.55,294.44 599.62,293.54 600.70,292.63 601.77,291.74 602.85,290.87 603.92,290.04 605.00,289.27 606.08,288.54 607.15,287.83 608.23,287.15 609.30,286.51 610.38,285.90 611.45,285.34 612.52,284.83 613.60,284.36 614.68,283.96 615.75,283.60 616.83,283.29 617.90,283.03 618.98,282.81 620.05,282.62 621.12,282.47 622.20,282.36 623.22,282.30 624.15,282.29 625.05,282.33 625.96,282.41 626.95,282.50 628.05,282.61 629.31,282.72 630.80,282.81 632.54,282.88 634.50,282.93 636.62,282.99 638.86,283.06 641.17,283.15 643.50,283.26 645.79,283.41 648.00,283.61 650.27,283.88 652.70,284.22 655.21,284.62 657.67,285.04 660.01,285.45 662.11,285.83 663.87,286.14 665.20,286.37" fill="none" stroke="#6a40a0" stroke-width="1.4" stroke-linejoin="round" stroke-linecap="round"/>
<polyline points="562.00,309.09 562.66,308.95 563.55,308.76 564.60,308.53 565.76,308.28 567.00,308.02 568.25,307.76 569.47,307.52 570.60,307.31 571.70,307.12 572.85,306.93 574.01,306.75 575.17,306.58 576.29,306.42 577.35,306.26 578.33,306.11 579.20,305.97 579.94,305.85 580.58,305.76 581.13,305.68 581.62,305.61 582.08,305.53 582.53,305.42 582.99,305.27 583.50,305.08 584.01,304.86 584.47,304.62 584.92,304.37 585.38,304.08 585.87,303.75 586.42,303.37 587.06,302.92 587.80,302.41 588.67,301.80 589.65,301.11 590.71,300.36 591.83,299.55 592.99,298.71 594.15,297.86 595.30,297.01 596.40,296.17 597.48,295.33 598.55,294.44 599.62,293.54 600.70,292.63 601.77,291.74 602.85,290.87 603.92,290.04 605.00,289.27 606.08,288.54 607.15,287.83 608.23,287.15 609.30,286.51 610.38,285.90 611.45,285.34 612.52,284.83 613.60,284.36 614.68,283.96 615.75,283.60 616.83,283.29 617.90,283.03 618.98,282.81 620.05,282.62 621.12,282.47 622.20,282.36 623.22,282.30 624.15,282.29 625.05,282.33 625.96,282.40 626.95,282.50 628.05,282.61 629.31,282.71 630.80,282.81 632.54,282.88 634.50,282.95 636.62,283.02 638.86,283.10 641.17,283.20 643.50,283.32 645.79,283.49 648.00,283.70 650.27,283.98 652.70,284.35 655.21,284.76 657.67,285.20 660.01,285.63 662.11,286.02 663.87,286.36 665.20,286.59" fill="none" stroke="#4b2a7f" stroke-width="1.9" stroke-linejoin="round" stroke-linecap="round"/>
<line x1="175.00" y1="357.10" x2="175.00" y2="446.60" stroke="#4a4a4a" stroke-width="0.8"/>
<line x1="172.00" y1="446.30" x2="289.80" y2="446.30" stroke="#4a4a4a" stroke-width="0.8"/>
<line x1="172.00" y1="446.30" x2="175.00" y2="446.30" stroke="#4a4a4a" stroke-width="0.8"/>
<line x1="172.00" y1="424.07" x2="175.00" y2="424.07" stroke="#4a4a4a" stroke-width="0.8"/>
<line x1="172.00" y1="401.85" x2="175.00" y2="401.85" stroke="#4a4a4a" stroke-width="0.8"/>
<line x1="172.00" y1="379.62" x2="175.00" y2="379.62" stroke="#4a4a4a" stroke-width="0.8"/>
<line x1="172.00" y1="357.40" x2="175.00" y2="357.40" stroke="#4a4a4a" stroke-width="0.8"/>
<line x1="175.00" y1="446.30" x2="175.00" y2="448.90" stroke="#4a4a4a" stroke-width="0.8"/>
<text x="172.84" y="458.50" font-size="7.7" fill="#2a2a2a" stroke="#2a2a2a" stroke-width="0.1" letter-spacing="0.100" xml:space="preserve">0</text>
<line x1="192.20" y1="446.30" x2="192.20" y2="448.90" stroke="#4a4a4a" stroke-width="0.8"/>
<text x="187.78" y="458.50" font-size="7.7" fill="#2a2a2a" stroke="#2a2a2a" stroke-width="0.1" letter-spacing="0.100" xml:space="preserve">12</text>
<line x1="209.40" y1="446.30" x2="209.40" y2="448.90" stroke="#4a4a4a" stroke-width="0.8"/>
<text x="205.00" y="458.50" font-size="7.7" fill="#2a2a2a" stroke="#2a2a2a" stroke-width="0.1" letter-spacing="0.100" xml:space="preserve">24</text>
<line x1="226.60" y1="446.30" x2="226.60" y2="448.90" stroke="#4a4a4a" stroke-width="0.8"/>
<text x="222.28" y="458.50" font-size="7.7" fill="#2a2a2a" stroke="#2a2a2a" stroke-width="0.1" letter-spacing="0.100" xml:space="preserve">36</text>
<line x1="243.80" y1="446.30" x2="243.80" y2="448.90" stroke="#4a4a4a" stroke-width="0.8"/>
<text x="239.55" y="458.50" font-size="7.7" fill="#2a2a2a" stroke="#2a2a2a" stroke-width="0.1" letter-spacing="0.100" xml:space="preserve">48</text>
<line x1="261.00" y1="446.30" x2="261.00" y2="448.90" stroke="#4a4a4a" stroke-width="0.8"/>
<text x="256.62" y="458.50" font-size="7.7" fill="#2a2a2a" stroke="#2a2a2a" stroke-width="0.1" letter-spacing="0.100" xml:space="preserve">60</text>
<line x1="278.20" y1="446.30" x2="278.20" y2="448.90" stroke="#4a4a4a" stroke-width="0.8"/>
<text x="273.88" y="458.50" font-size="7.7" fill="#2a2a2a" stroke="#2a2a2a" stroke-width="0.1" letter-spacing="0.100" xml:space="preserve">72</text>
<text x="216.38" y="472.20" font-size="8.6" fill="#231f20" stroke="#231f20" stroke-width="0.1" letter-spacing="-0.009" xml:space="preserve">Time (h)</text>
<polyline points="175.00,438.12 176.43,437.68 177.87,437.07 179.30,436.24 180.73,435.11 182.17,433.63 183.60,431.71 185.03,429.35 186.47,426.55 187.90,423.40 189.33,420.07 190.77,416.77 192.20,413.68 193.63,410.96 195.07,408.69 196.50,406.86 197.93,405.45 199.37,404.39 200.80,403.60 202.23,403.03 203.67,402.62 204.81,402.38 205.12,402.51 205.44,402.68 205.80,402.89 206.27,403.12 206.86,403.35 207.62,403.58 208.60,403.78 209.83,403.94 211.37,404.07 213.21,404.17 215.28,404.26 217.52,404.34 219.85,404.41 222.20,404.48 224.52,404.54 226.73,404.61 228.86,404.67 231.01,404.72 233.16,404.77 235.31,404.81 237.47,404.86 239.62,404.91 241.78,404.98 243.93,405.05 246.08,405.13 248.23,405.22 250.38,405.31 252.53,405.41 254.68,405.52 256.83,405.64 258.98,405.78 261.13,405.94 263.40,406.13 265.83,406.36 268.33,406.62 270.80,406.88 273.14,407.14 275.24,407.38 277.00,407.57 278.33,407.72" fill="none" stroke="#2f5389" stroke-width="1.4" stroke-linejoin="round" stroke-linecap="round"/>
<polyline points="175.00,437.85 176.43,437.30 177.87,436.55 179.30,435.53 180.73,434.18 182.17,432.43 183.60,430.27 185.03,427.69 186.47,424.78 187.90,421.68 189.33,418.59 190.77,415.68 192.20,413.10 193.63,410.93 195.07,409.19 196.50,407.84 197.93,406.82 199.37,406.06 200.80,405.51 202.23,405.11 202.95,404.96 203.37,405.03 203.86,405.12 204.42,405.23 205.10,405.35 205.91,405.48 206.88,405.61 208.04,405.73 209.40,405.85 211.04,405.96 212.94,406.08 215.06,406.19 217.33,406.31 219.68,406.42 222.05,406.53 224.38,406.64 226.60,406.74 228.75,406.83 230.90,406.91 233.05,406.99 235.20,407.06 237.35,407.13 239.50,407.21 241.65,407.30 243.80,407.41 245.95,407.52 248.10,407.64 250.25,407.76 252.40,407.89 254.55,408.03 256.70,408.18 258.85,408.34 261.00,408.52 263.27,408.72 265.70,408.96 268.21,409.21 270.68,409.48 273.01,409.73 275.11,409.96 276.87,410.15 278.20,410.30" fill="none" stroke="#f5a9ba" stroke-width="1.4" stroke-linejoin="round" stroke-linecap="round"/>
<polyline points="175.00,437.85 176.43,437.31 177.87,436.57 179.30,435.55 180.73,434.20 182.17,432.44 183.60,430.23 185.03,427.57 186.47,424.51 187.90,421.19 189.33,417.81 190.77,414.57 192.20,411.66 193.63,409.17 195.07,407.15 196.50,405.56 197.93,404.35 199.37,403.45 200.80,402.79 202.23,402.32 203.67,401.98 204.38,401.85 204.72,401.89 205.10,401.94 205.55,402.00 206.09,402.07 206.72,402.14 207.47,402.20 208.36,402.26 209.40,402.29 210.64,402.32 212.07,402.34 213.66,402.35 215.36,402.35 217.12,402.35 218.89,402.34 220.63,402.32 222.30,402.29 223.90,402.25 225.49,402.16 227.07,402.06 228.66,401.96 230.26,401.87 231.87,401.82 233.52,401.80 235.20,401.85 236.94,401.97 238.75,402.15 240.60,402.37 242.46,402.63 244.31,402.90 246.12,403.16 247.87,403.41 249.53,403.63 251.06,403.80 252.47,403.95 253.79,404.08 255.09,404.21 256.41,404.35 257.80,404.51 259.31,404.71 261.00,404.96 262.99,405.29 265.30,405.69 267.79,406.13 270.32,406.60 272.76,407.06 274.98,407.47 276.83,407.82 278.20,408.07" fill="none" stroke="#e0687f" stroke-width="1.4" stroke-linejoin="round" stroke-linecap="round"/>
<polyline points="175.00,437.85 176.43,437.37 177.87,436.69 179.30,435.76 180.73,434.52 182.17,432.90 183.60,430.83 185.03,428.30 186.47,425.35 187.90,422.09 189.33,418.72 190.77,415.42 192.20,412.40 193.63,409.78 195.07,407.62 196.50,405.91 197.93,404.60 199.37,403.61 200.80,402.89 202.23,402.37 203.67,401.99 204.38,401.85 204.69,401.96 205.00,402.11 205.36,402.28 205.82,402.48 206.41,402.67 207.17,402.87 208.16,403.04 209.40,403.18 210.97,403.30 212.84,403.40 214.96,403.48 217.24,403.56 219.61,403.63 222.01,403.70 224.37,403.77 226.60,403.85 228.75,403.93 230.90,404.01 233.05,404.09 235.20,404.17 237.35,404.25 239.50,404.33 241.65,404.42 243.80,404.52 245.95,404.61 248.10,404.71 250.25,404.81 252.40,404.92 254.55,405.03 256.70,405.15 258.85,405.27 261.00,405.41 263.27,405.56 265.70,405.74 268.21,405.93 270.68,406.13 273.01,406.32 275.11,406.49 276.87,406.63 278.20,406.74" fill="none" stroke="#a6a6a6" stroke-width="1.3" stroke-linejoin="round" stroke-linecap="round"/>
<line x1="303.60" y1="357.10" x2="303.60" y2="446.60" stroke="#4a4a4a" stroke-width="0.8"/>
<line x1="300.60" y1="446.30" x2="418.70" y2="446.30" stroke="#4a4a4a" stroke-width="0.8"/>
<line x1="300.60" y1="446.30" x2="303.60" y2="446.30" stroke="#4a4a4a" stroke-width="0.8"/>
<line x1="300.60" y1="424.07" x2="303.60" y2="424.07" stroke="#4a4a4a" stroke-width="0.8"/>
<line x1="300.60" y1="401.85" x2="303.60" y2="401.85" stroke="#4a4a4a" stroke-width="0.8"/>
<line x1="300.60" y1="379.62" x2="303.60" y2="379.62" stroke="#4a4a4a" stroke-width="0.8"/>
<line x1="300.60" y1="357.40" x2="303.60" y2="357.40" stroke="#4a4a4a" stroke-width="0.8"/>
<line x1="303.60" y1="446.30" x2="303.60" y2="448.90" stroke="#4a4a4a" stroke-width="0.8"/>
<text x="301.44" y="458.50" font-size="7.7" fill="#2a2a2a" stroke="#2a2a2a" stroke-width="0.1" letter-spacing="0.100" xml:space="preserve">0</text>
<line x1="320.80" y1="446.30" x2="320.80" y2="448.90" stroke="#4a4a4a" stroke-width="0.8"/>
<text x="316.38" y="458.50" font-size="7.7" fill="#2a2a2a" stroke="#2a2a2a" stroke-width="0.1" letter-spacing="0.100" xml:space="preserve">12</text>
<line x1="338.00" y1="446.30" x2="338.00" y2="448.90" stroke="#4a4a4a" stroke-width="0.8"/>
<text x="333.60" y="458.50" font-size="7.7" fill="#2a2a2a" stroke="#2a2a2a" stroke-width="0.1" letter-spacing="0.100" xml:space="preserve">24</text>
<line x1="355.20" y1="446.30" x2="355.20" y2="448.90" stroke="#4a4a4a" stroke-width="0.8"/>
<text x="350.88" y="458.50" font-size="7.7" fill="#2a2a2a" stroke="#2a2a2a" stroke-width="0.1" letter-spacing="0.100" xml:space="preserve">36</text>
<line x1="372.40" y1="446.30" x2="372.40" y2="448.90" stroke="#4a4a4a" stroke-width="0.8"/>
<text x="368.15" y="458.50" font-size="7.7" fill="#2a2a2a" stroke="#2a2a2a" stroke-width="0.1" letter-spacing="0.100" xml:space="preserve">48</text>
<line x1="389.60" y1="446.30" x2="389.60" y2="448.90" stroke="#4a4a4a" stroke-width="0.8"/>
<text x="385.22" y="458.50" font-size="7.7" fill="#2a2a2a" stroke="#2a2a2a" stroke-width="0.1" letter-spacing="0.100" xml:space="preserve">60</text>
<line x1="406.80" y1="446.30" x2="406.80" y2="448.90" stroke="#4a4a4a" stroke-width="0.8"/>
<text x="402.48" y="458.50" font-size="7.7" fill="#2a2a2a" stroke="#2a2a2a" stroke-width="0.1" letter-spacing="0.100" xml:space="preserve">72</text>
<text x="344.98" y="472.20" font-size="8.6" fill="#231f20" stroke="#231f20" stroke-width="0.1" letter-spacing="-0.009" xml:space="preserve">Time (h)</text>
<polyline points="303.60,438.30 305.03,437.89 306.47,437.32 307.90,436.54 309.33,435.48 310.77,434.07 312.20,432.26 313.63,429.99 315.07,427.28 316.50,424.20 317.93,420.90 319.37,417.59 320.80,414.45 322.23,411.66 323.67,409.30 325.10,407.39 326.53,405.91 327.97,404.78 329.40,403.95 330.83,403.35 332.27,402.91 332.98,402.74 333.35,402.87 333.76,403.04 334.23,403.26 334.81,403.49 335.51,403.72 336.38,403.95 337.44,404.14 338.72,404.29 340.28,404.40 342.11,404.48 344.15,404.53 346.35,404.57 348.63,404.61 350.95,404.64 353.23,404.68 355.42,404.74 357.54,404.81 359.68,404.89 361.83,404.96 363.98,405.04 366.14,405.13 368.30,405.22 370.46,405.31 372.62,405.41 374.76,405.50 376.92,405.60 379.06,405.69 381.22,405.79 383.37,405.90 385.52,406.02 387.67,406.15 389.81,406.30 392.08,406.47 394.52,406.67 397.02,406.90 399.49,407.13 401.82,407.35 403.92,407.56 405.69,407.73 407.01,407.85" fill="none" stroke="#a9c4ec" stroke-width="1.4" stroke-linejoin="round" stroke-linecap="round"/>
<polyline points="303.60,437.45 305.03,436.89 306.47,436.10 307.90,435.04 309.33,433.62 310.77,431.79 312.20,429.49 313.63,426.73 315.07,423.58 316.50,420.18 317.93,416.74 319.37,413.47 320.80,410.54 322.23,408.06 323.67,406.04 325.10,404.46 326.53,403.27 327.97,402.38 329.40,401.73 330.83,401.26 331.69,401.05 332.05,401.18 332.45,401.36 332.90,401.57 333.46,401.80 334.16,402.04 335.02,402.26 336.10,402.45 337.43,402.61 339.06,402.71 341.00,402.79 343.18,402.84 345.51,402.88 347.94,402.92 350.38,402.95 352.77,402.99 355.03,403.05 357.20,403.12 359.36,403.20 361.51,403.27 363.65,403.36 365.80,403.44 367.94,403.53 370.08,403.62 372.23,403.72 374.38,403.81 376.53,403.91 378.68,404.00 380.83,404.11 382.98,404.21 385.13,404.33 387.28,404.46 389.43,404.61 391.70,404.78 394.13,404.98 396.63,405.21 399.10,405.44 401.44,405.66 403.54,405.87 405.30,406.04 406.63,406.16" fill="none" stroke="#6f96d1" stroke-width="1.4" stroke-linejoin="round" stroke-linecap="round"/>
<polyline points="303.60,438.12 305.03,437.67 306.47,437.05 307.90,436.20 309.33,435.05 310.77,433.54 312.20,431.60 313.63,429.19 315.07,426.36 316.50,423.19 317.93,419.84 319.37,416.53 320.80,413.44 322.23,410.73 323.67,408.47 325.10,406.66 326.53,405.26 327.97,404.21 329.40,403.43 330.83,402.87 332.27,402.47 332.62,402.38 332.99,402.51 333.39,402.69 333.86,402.90 334.43,403.13 335.13,403.37 336.00,403.59 337.07,403.79 338.36,403.94 339.94,404.05 341.80,404.12 343.88,404.18 346.12,404.22 348.44,404.25 350.79,404.28 353.10,404.33 355.31,404.38 357.45,404.45 359.59,404.53 361.74,404.61 363.89,404.69 366.05,404.77 368.20,404.86 370.36,404.95 372.51,405.05 374.66,405.15 376.81,405.24 378.96,405.34 381.11,405.44 383.26,405.55 385.41,405.67 387.56,405.79 389.71,405.94 391.98,406.11 394.41,406.32 396.91,406.54 399.38,406.77 401.72,407.00 403.82,407.20 405.58,407.37 406.91,407.50" fill="none" stroke="#1d3d78" stroke-width="1.4" stroke-linejoin="round" stroke-linecap="round"/>
<polyline points="303.60,437.59 305.03,437.05 306.47,436.31 307.90,435.29 309.33,433.94 310.77,432.18 312.20,429.97 313.63,427.29 315.07,424.21 316.50,420.86 317.93,417.43 319.37,414.14 320.80,411.17 322.23,408.62 323.67,406.55 325.10,404.92 326.53,403.68 327.97,402.75 329.40,402.08 330.83,401.59 331.91,401.32 332.27,401.44 332.66,401.62 333.12,401.83 333.68,402.07 334.38,402.30 335.25,402.53 336.33,402.72 337.64,402.87 339.26,402.98 341.19,403.06 343.34,403.11 345.65,403.15 348.05,403.18 350.47,403.22 352.84,403.26 355.09,403.32 357.25,403.39 359.41,403.46 361.56,403.54 363.71,403.62 365.85,403.71 368.00,403.80 370.14,403.89 372.29,403.98 374.44,404.08 376.59,404.17 378.74,404.27 380.89,404.37 383.04,404.48 385.19,404.60 387.34,404.73 389.49,404.87 391.76,405.05 394.20,405.25 396.70,405.48 399.17,405.71 401.50,405.93 403.60,406.13 405.37,406.30 406.69,406.43" fill="none" stroke="#2e5da6" stroke-width="1.4" stroke-linejoin="round" stroke-linecap="round"/>
<polyline points="303.60,437.85 305.03,437.36 306.47,436.68 307.90,435.76 309.33,434.51 310.77,432.88 312.20,430.80 313.63,428.26 315.07,425.30 316.50,422.03 317.93,418.64 319.37,415.33 320.80,412.30 322.23,409.67 323.67,407.50 325.10,405.78 326.53,404.46 327.97,403.47 329.40,402.75 330.83,402.23 332.27,401.85 332.63,401.98 333.03,402.16 333.49,402.37 334.06,402.60 334.76,402.84 335.63,403.06 336.70,403.25 338.00,403.41 339.60,403.51 341.49,403.59 343.61,403.64 345.88,403.68 348.25,403.72 350.63,403.75 352.97,403.79 355.20,403.85 357.35,403.92 359.50,404.00 361.65,404.07 363.80,404.16 365.95,404.24 368.10,404.33 370.25,404.42 372.40,404.52 374.55,404.61 376.70,404.71 378.85,404.80 381.00,404.91 383.15,405.01 385.30,405.13 387.45,405.26 389.60,405.41 391.87,405.58 394.30,405.78 396.81,406.01 399.28,406.24 401.61,406.46 403.71,406.67 405.47,406.84 406.80,406.96" fill="none" stroke="#a6a6a6" stroke-width="1.3" stroke-linejoin="round" stroke-linecap="round"/>
<line x1="433.50" y1="357.10" x2="433.50" y2="446.60" stroke="#4a4a4a" stroke-width="0.8"/>
<line x1="430.50" y1="446.30" x2="548.10" y2="446.30" stroke="#4a4a4a" stroke-width="0.8"/>
<line x1="430.50" y1="446.30" x2="433.50" y2="446.30" stroke="#4a4a4a" stroke-width="0.8"/>
<line x1="430.50" y1="424.07" x2="433.50" y2="424.07" stroke="#4a4a4a" stroke-width="0.8"/>
<line x1="430.50" y1="401.85" x2="433.50" y2="401.85" stroke="#4a4a4a" stroke-width="0.8"/>
<line x1="430.50" y1="379.62" x2="433.50" y2="379.62" stroke="#4a4a4a" stroke-width="0.8"/>
<line x1="430.50" y1="357.40" x2="433.50" y2="357.40" stroke="#4a4a4a" stroke-width="0.8"/>
<line x1="433.50" y1="446.30" x2="433.50" y2="448.90" stroke="#4a4a4a" stroke-width="0.8"/>
<text x="431.34" y="458.50" font-size="7.7" fill="#2a2a2a" stroke="#2a2a2a" stroke-width="0.1" letter-spacing="0.100" xml:space="preserve">0</text>
<line x1="450.70" y1="446.30" x2="450.70" y2="448.90" stroke="#4a4a4a" stroke-width="0.8"/>
<text x="446.28" y="458.50" font-size="7.7" fill="#2a2a2a" stroke="#2a2a2a" stroke-width="0.1" letter-spacing="0.100" xml:space="preserve">12</text>
<line x1="467.90" y1="446.30" x2="467.90" y2="448.90" stroke="#4a4a4a" stroke-width="0.8"/>
<text x="463.50" y="458.50" font-size="7.7" fill="#2a2a2a" stroke="#2a2a2a" stroke-width="0.1" letter-spacing="0.100" xml:space="preserve">24</text>
<line x1="485.10" y1="446.30" x2="485.10" y2="448.90" stroke="#4a4a4a" stroke-width="0.8"/>
<text x="480.78" y="458.50" font-size="7.7" fill="#2a2a2a" stroke="#2a2a2a" stroke-width="0.1" letter-spacing="0.100" xml:space="preserve">36</text>
<line x1="502.30" y1="446.30" x2="502.30" y2="448.90" stroke="#4a4a4a" stroke-width="0.8"/>
<text x="498.05" y="458.50" font-size="7.7" fill="#2a2a2a" stroke="#2a2a2a" stroke-width="0.1" letter-spacing="0.100" xml:space="preserve">48</text>
<line x1="519.50" y1="446.30" x2="519.50" y2="448.90" stroke="#4a4a4a" stroke-width="0.8"/>
<text x="515.12" y="458.50" font-size="7.7" fill="#2a2a2a" stroke="#2a2a2a" stroke-width="0.1" letter-spacing="0.100" xml:space="preserve">60</text>
<line x1="536.70" y1="446.30" x2="536.70" y2="448.90" stroke="#4a4a4a" stroke-width="0.8"/>
<text x="532.38" y="458.50" font-size="7.7" fill="#2a2a2a" stroke="#2a2a2a" stroke-width="0.1" letter-spacing="0.100" xml:space="preserve">72</text>
<text x="474.88" y="472.20" font-size="8.6" fill="#231f20" stroke="#231f20" stroke-width="0.1" letter-spacing="-0.009" xml:space="preserve">Time (h)</text>
<polyline points="433.50,438.85 434.93,438.19 436.37,437.25 437.80,435.96 439.23,434.22 440.67,431.95 442.10,429.13 443.53,425.80 444.97,422.13 446.40,418.34 447.83,414.72 449.27,411.48 450.70,408.77 452.13,406.61 453.57,404.97 455.00,403.75 456.43,402.88 457.87,402.26 459.30,401.82 460.16,401.63 460.37,401.73 460.64,401.88 460.96,402.05 461.32,402.24 461.72,402.44 462.14,402.63 462.58,402.81 463.03,402.96 463.40,403.10 463.69,403.22 463.95,403.34 464.26,403.45 464.68,403.55 465.28,403.65 466.14,403.75 467.33,403.85 468.89,403.95 470.80,404.04 472.97,404.14 475.32,404.23 477.77,404.31 480.24,404.39 482.66,404.46 484.93,404.52 487.10,404.56 489.26,404.59 491.41,404.60 493.55,404.61 495.70,404.63 497.84,404.65 499.98,404.68 502.13,404.74 504.28,404.81 506.43,404.89 508.58,404.97 510.73,405.07 512.88,405.18 515.03,405.31 517.18,405.46 519.33,405.63 521.60,405.84 524.03,406.10 526.53,406.38 529.00,406.68 531.34,406.98 533.44,407.24 535.20,407.47 536.53,407.63" fill="none" stroke="#7dd6d6" stroke-width="1.4" stroke-linejoin="round" stroke-linecap="round"/>
<polyline points="433.50,439.45 434.93,438.95 436.37,438.23 437.80,437.22 439.23,435.84 440.67,433.99 442.10,431.62 443.53,428.71 444.97,425.34 446.40,421.70 447.83,418.03 449.27,414.60 450.70,411.59 452.13,409.10 453.57,407.16 455.00,405.69 456.43,404.61 457.87,403.84 459.30,403.30 460.73,402.92 461.16,402.83 461.37,402.93 461.64,403.08 461.97,403.25 462.33,403.44 462.72,403.64 463.15,403.83 463.58,404.01 464.03,404.16 464.41,404.30 464.71,404.42 464.98,404.54 465.30,404.65 465.73,404.75 466.34,404.85 467.18,404.95 468.33,405.05 469.84,405.15 471.66,405.24 473.73,405.34 475.97,405.43 478.32,405.51 480.69,405.59 483.02,405.66 485.23,405.72 487.36,405.76 489.51,405.79 491.66,405.80 493.81,405.81 495.97,405.83 498.12,405.85 500.28,405.88 502.43,405.94 504.58,406.01 506.73,406.09 508.88,406.18 511.03,406.27 513.18,406.38 515.33,406.51 517.48,406.66 519.63,406.83 521.90,407.04 524.33,407.30 526.83,407.59 529.30,407.88 531.64,408.18 533.74,408.44 535.50,408.67 536.83,408.83" fill="none" stroke="#4ab8b0" stroke-width="1.4" stroke-linejoin="round" stroke-linecap="round"/>
<polyline points="433.50,439.01 434.93,438.39 436.37,437.52 437.80,436.32 439.23,434.68 440.67,432.54 442.10,429.85 443.53,426.64 444.97,423.04 446.40,419.28 447.83,415.63 449.27,412.33 450.70,409.53 452.13,407.28 453.57,405.55 455.00,404.26 456.43,403.33 457.87,402.67 459.30,402.21 460.45,401.94 460.66,402.04 460.93,402.19 461.25,402.36 461.61,402.55 462.01,402.75 462.43,402.94 462.87,403.12 463.31,403.27 463.69,403.41 463.98,403.53 464.25,403.65 464.55,403.76 464.98,403.86 465.58,403.97 466.44,404.06 467.61,404.16 469.16,404.26 471.05,404.35 473.19,404.45 475.51,404.54 477.93,404.62 480.37,404.70 482.76,404.77 485.01,404.83 487.17,404.87 489.33,404.90 491.48,404.91 493.63,404.93 495.77,404.94 497.92,404.96 500.07,404.99 502.21,405.05 504.36,405.12 506.51,405.20 508.66,405.29 510.81,405.38 512.96,405.50 515.11,405.62 517.26,405.77 519.41,405.94 521.68,406.15 524.12,406.41 526.62,406.70 529.09,407.00 531.42,407.29 533.52,407.55 535.29,407.78 536.61,407.94" fill="none" stroke="#24958f" stroke-width="1.4" stroke-linejoin="round" stroke-linecap="round"/>
<polyline points="433.50,439.32 434.93,438.77 436.37,438.00 437.80,436.92 439.23,435.44 440.67,433.48 442.10,430.98 443.53,427.95 444.97,424.50 446.40,420.80 447.83,417.14 449.27,413.76 450.70,410.83 452.13,408.44 453.57,406.59 455.00,405.19 456.43,404.18 457.87,403.46 459.30,402.95 460.73,402.59 460.88,402.56 461.09,402.67 461.36,402.81 461.68,402.98 462.04,403.17 462.44,403.37 462.86,403.56 463.30,403.74 463.74,403.89 464.12,404.03 464.42,404.15 464.69,404.27 465.00,404.38 465.43,404.49 466.03,404.59 466.88,404.69 468.04,404.78 469.57,404.88 471.42,404.98 473.51,405.07 475.79,405.16 478.16,405.24 480.56,405.32 482.91,405.39 485.14,405.45 487.29,405.49 489.44,405.52 491.59,405.54 493.74,405.55 495.89,405.56 498.04,405.58 500.19,405.62 502.34,405.67 504.49,405.74 506.64,405.82 508.79,405.91 510.94,406.01 513.09,406.12 515.24,406.25 517.39,406.39 519.54,406.56 521.81,406.77 524.25,407.03 526.75,407.32 529.22,407.62 531.55,407.91 533.65,408.18 535.42,408.40 536.74,408.56" fill="none" stroke="#187a78" stroke-width="1.9" stroke-linejoin="round" stroke-linecap="round"/>
<polyline points="433.50,439.19 434.93,438.66 436.37,437.90 437.80,436.85 439.23,435.41 440.67,433.50 442.10,431.05 443.53,428.06 444.97,424.62 446.40,420.93 447.83,417.23 449.27,413.80 450.70,410.81 452.13,408.36 453.57,406.44 455.00,405.00 456.43,403.95 457.87,403.19 459.30,402.66 460.73,402.29 460.94,402.38 461.21,402.50 461.54,402.64 461.90,402.79 462.29,402.96 462.72,403.12 463.15,403.27 463.60,403.41 463.98,403.53 464.27,403.65 464.54,403.77 464.85,403.88 465.28,403.99 465.88,404.09 466.74,404.20 467.90,404.29 469.43,404.39 471.29,404.49 473.41,404.58 475.69,404.67 478.08,404.75 480.50,404.83 482.86,404.90 485.10,404.96 487.25,405.01 489.40,405.04 491.55,405.06 493.70,405.07 495.85,405.09 498.00,405.11 500.15,405.14 502.30,405.18 504.45,405.24 506.60,405.31 508.75,405.39 510.90,405.48 513.05,405.56 515.20,405.66 517.35,405.75 519.50,405.85 521.77,405.96 524.20,406.08 526.71,406.21 529.17,406.34 531.51,406.46 533.61,406.57 535.37,406.67 536.70,406.74" fill="none" stroke="#a6a6a6" stroke-width="1.3" stroke-linejoin="round" stroke-linecap="round"/>
<line x1="562.00" y1="357.10" x2="562.00" y2="446.60" stroke="#4a4a4a" stroke-width="0.8"/>
<line x1="559.00" y1="446.30" x2="677.00" y2="446.30" stroke="#4a4a4a" stroke-width="0.8"/>
<line x1="559.00" y1="446.30" x2="562.00" y2="446.30" stroke="#4a4a4a" stroke-width="0.8"/>
<line x1="559.00" y1="424.07" x2="562.00" y2="424.07" stroke="#4a4a4a" stroke-width="0.8"/>
<line x1="559.00" y1="401.85" x2="562.00" y2="401.85" stroke="#4a4a4a" stroke-width="0.8"/>
<line x1="559.00" y1="379.62" x2="562.00" y2="379.62" stroke="#4a4a4a" stroke-width="0.8"/>
<line x1="559.00" y1="357.40" x2="562.00" y2="357.40" stroke="#4a4a4a" stroke-width="0.8"/>
<line x1="562.00" y1="446.30" x2="562.00" y2="448.90" stroke="#4a4a4a" stroke-width="0.8"/>
<text x="559.84" y="458.50" font-size="7.7" fill="#2a2a2a" stroke="#2a2a2a" stroke-width="0.1" letter-spacing="0.100" xml:space="preserve">0</text>
<line x1="579.20" y1="446.30" x2="579.20" y2="448.90" stroke="#4a4a4a" stroke-width="0.8"/>
<text x="574.78" y="458.50" font-size="7.7" fill="#2a2a2a" stroke="#2a2a2a" stroke-width="0.1" letter-spacing="0.100" xml:space="preserve">12</text>
<line x1="596.40" y1="446.30" x2="596.40" y2="448.90" stroke="#4a4a4a" stroke-width="0.8"/>
<text x="592.00" y="458.50" font-size="7.7" fill="#2a2a2a" stroke="#2a2a2a" stroke-width="0.1" letter-spacing="0.100" xml:space="preserve">24</text>
<line x1="613.60" y1="446.30" x2="613.60" y2="448.90" stroke="#4a4a4a" stroke-width="0.8"/>
<text x="609.28" y="458.50" font-size="7.7" fill="#2a2a2a" stroke="#2a2a2a" stroke-width="0.1" letter-spacing="0.100" xml:space="preserve">36</text>
<line x1="630.80" y1="446.30" x2="630.80" y2="448.90" stroke="#4a4a4a" stroke-width="0.8"/>
<text x="626.55" y="458.50" font-size="7.7" fill="#2a2a2a" stroke="#2a2a2a" stroke-width="0.1" letter-spacing="0.100" xml:space="preserve">48</text>
<line x1="648.00" y1="446.30" x2="648.00" y2="448.90" stroke="#4a4a4a" stroke-width="0.8"/>
<text x="643.62" y="458.50" font-size="7.7" fill="#2a2a2a" stroke="#2a2a2a" stroke-width="0.1" letter-spacing="0.100" xml:space="preserve">60</text>
<line x1="665.20" y1="446.30" x2="665.20" y2="448.90" stroke="#4a4a4a" stroke-width="0.8"/>
<text x="660.88" y="458.50" font-size="7.7" fill="#2a2a2a" stroke="#2a2a2a" stroke-width="0.1" letter-spacing="0.100" xml:space="preserve">72</text>
<text x="603.38" y="472.20" font-size="8.6" fill="#231f20" stroke="#231f20" stroke-width="0.1" letter-spacing="-0.009" xml:space="preserve">Time (h)</text>
<polyline points="562.00,438.74 563.43,438.24 564.87,437.52 566.30,436.54 567.73,435.21 569.17,433.45 570.60,431.20 572.03,428.46 573.47,425.28 574.90,421.82 576.33,418.28 577.77,414.91 579.20,411.89 580.63,409.35 582.07,407.30 583.50,405.72 584.93,404.54 586.37,403.67 587.80,403.05 589.23,402.61 590.67,402.29 590.89,402.38 591.18,402.51 591.53,402.66 591.92,402.82 592.33,402.99 592.75,403.15 593.16,403.29 593.53,403.41 593.79,403.49 593.91,403.56 593.98,403.62 594.07,403.67 594.28,403.71 594.68,403.75 595.36,403.80 596.40,403.85 597.86,403.91 599.69,403.97 601.80,404.03 604.10,404.09 606.52,404.14 608.96,404.20 611.35,404.25 613.60,404.29 615.75,404.33 617.90,404.35 620.05,404.37 622.20,404.38 624.35,404.39 626.50,404.42 628.65,404.46 630.80,404.52 632.95,404.59 635.10,404.67 637.25,404.75 639.40,404.85 641.55,404.96 643.70,405.09 645.85,405.24 648.00,405.41 650.27,405.62 652.70,405.87 655.21,406.16 657.67,406.46 660.01,406.75 662.11,407.02 663.87,407.24 665.20,407.41" fill="none" stroke="#4b2a7f" stroke-width="1.9" stroke-linejoin="round" stroke-linecap="round"/>
<polyline points="562.00,438.74 563.43,438.15 564.87,437.32 566.30,436.18 567.73,434.65 569.17,432.66 570.60,430.16 572.03,427.17 573.47,423.78 574.90,420.18 576.33,416.60 577.77,413.28 579.20,410.38 580.63,407.98 582.07,406.09 583.50,404.65 584.93,403.58 586.37,402.80 587.80,402.24 589.23,401.85 589.57,401.96 590.04,402.11 590.59,402.28 591.20,402.48 591.84,402.67 592.46,402.87 593.04,403.04 593.53,403.18 593.86,403.30 594.01,403.40 594.08,403.49 594.16,403.57 594.34,403.65 594.71,403.71 595.37,403.78 596.40,403.85 597.86,403.92 599.69,403.98 601.80,404.04 604.10,404.10 606.52,404.15 608.96,404.20 611.35,404.25 613.60,404.29 615.75,404.33 617.90,404.35 620.05,404.37 622.20,404.38 624.35,404.39 626.50,404.42 628.65,404.46 630.80,404.52 632.95,404.59 635.10,404.67 637.25,404.76 639.40,404.86 641.55,404.98 643.70,405.11 645.85,405.25 648.00,405.41 650.27,405.60 652.70,405.83 655.21,406.09 657.67,406.35 660.01,406.61 662.11,406.84 663.87,407.04 665.20,407.18" fill="none" stroke="#6a40a0" stroke-width="1.4" stroke-linejoin="round" stroke-linecap="round"/>
<polyline points="562.00,438.74 563.43,438.22 564.87,437.48 566.30,436.46 567.73,435.08 569.17,433.27 570.60,430.96 572.03,428.16 573.47,424.93 574.90,421.43 576.33,417.89 577.77,414.53 579.20,411.54 580.63,409.04 582.07,407.03 583.50,405.49 584.93,404.34 586.37,403.49 587.80,402.89 589.23,402.46 589.95,402.29 590.23,402.40 590.61,402.55 591.06,402.74 591.56,402.93 592.08,403.13 592.60,403.33 593.10,403.49 593.53,403.63 593.83,403.73 593.96,403.80 594.03,403.86 594.12,403.91 594.31,403.94 594.69,403.98 595.36,404.02 596.40,404.07 597.86,404.13 599.69,404.19 601.80,404.25 604.10,404.31 606.52,404.37 608.96,404.42 611.35,404.47 613.60,404.52 615.75,404.55 617.90,404.58 620.05,404.61 622.20,404.63 624.35,404.65 626.50,404.67 628.65,404.70 630.80,404.74 632.95,404.78 635.10,404.81 637.25,404.84 639.40,404.88 641.55,404.93 643.70,404.99 645.85,405.07 648.00,405.18 650.27,405.34 652.70,405.53 655.21,405.75 657.67,405.99 660.01,406.22 662.11,406.43 663.87,406.61 665.20,406.74" fill="none" stroke="#a6a6a6" stroke-width="1.3" stroke-linejoin="round" stroke-linecap="round"/>
<polyline points="562.00,438.74 563.43,438.12 564.87,437.24 566.30,436.02 567.73,434.37 569.17,432.21 570.60,429.49 572.03,426.25 573.47,422.62 574.90,418.82 576.33,415.14 577.77,411.80 579.20,408.97 580.63,406.70 582.07,404.95 583.50,403.66 584.93,402.72 586.37,402.05 587.80,401.58 588.52,401.41 588.79,401.53 589.14,401.71 589.57,401.91 590.04,402.14 590.55,402.37 591.07,402.60 591.59,402.80 592.10,402.96 592.52,403.09 592.82,403.20 593.09,403.30 593.40,403.38 593.81,403.45 594.40,403.51 595.24,403.57 596.40,403.63 597.93,403.68 599.79,403.71 601.91,403.74 604.19,403.77 606.58,403.79 609.00,403.81 611.36,403.83 613.60,403.85 615.75,403.87 617.90,403.89 620.05,403.90 622.20,403.92 624.35,403.94 626.50,403.97 628.65,404.01 630.80,404.07 632.95,404.14 635.10,404.22 637.25,404.31 639.40,404.41 641.55,404.52 643.70,404.65 645.85,404.79 648.00,404.96 650.27,405.17 652.70,405.43 655.21,405.72 657.67,406.02 660.01,406.31 662.11,406.58 663.87,406.80 665.20,406.96" fill="none" stroke="#9b72c9" stroke-width="1.4" stroke-linejoin="round" stroke-linecap="round"/>
<polyline points="562.00,438.74 563.43,438.06 564.87,437.11 566.30,435.79 567.73,434.01 569.17,431.70 570.60,428.82 572.03,425.43 573.47,421.68 574.90,417.81 576.33,414.12 577.77,410.82 579.20,408.05 580.63,405.85 582.07,404.17 583.50,402.93 584.93,402.04 586.37,401.40 587.80,400.96 588.13,401.11 588.57,401.31 589.10,401.55 589.68,401.81 590.30,402.08 590.92,402.33 591.53,402.56 592.10,402.74 592.55,402.88 592.87,402.99 593.15,403.09 593.44,403.17 593.84,403.24 594.42,403.30 595.25,403.35 596.40,403.41 597.93,403.45 599.79,403.49 601.91,403.52 604.19,403.54 606.58,403.56 609.00,403.58 611.36,403.60 613.60,403.63 615.75,403.65 617.90,403.67 620.05,403.68 622.20,403.70 624.35,403.72 626.50,403.75 628.65,403.79 630.80,403.85 632.95,403.92 635.10,404.00 637.25,404.09 639.40,404.18 641.55,404.30 643.70,404.42 645.85,404.57 648.00,404.74 650.27,404.95 652.70,405.21 655.21,405.50 657.67,405.79 660.01,406.09 662.11,406.35 663.87,406.58 665.20,406.74" fill="none" stroke="#d3bcee" stroke-width="1.4" stroke-linejoin="round" stroke-linecap="round"/>
<line x1="175.00" y1="489.80" x2="175.00" y2="578.90" stroke="#4a4a4a" stroke-width="0.8"/>
<line x1="172.00" y1="578.60" x2="289.80" y2="578.60" stroke="#4a4a4a" stroke-width="0.8"/>
<line x1="172.00" y1="578.60" x2="175.00" y2="578.60" stroke="#4a4a4a" stroke-width="0.8"/>
<line x1="172.00" y1="556.48" x2="175.00" y2="556.48" stroke="#4a4a4a" stroke-width="0.8"/>
<line x1="172.00" y1="534.35" x2="175.00" y2="534.35" stroke="#4a4a4a" stroke-width="0.8"/>
<line x1="172.00" y1="512.23" x2="175.00" y2="512.23" stroke="#4a4a4a" stroke-width="0.8"/>
<line x1="172.00" y1="490.10" x2="175.00" y2="490.10" stroke="#4a4a4a" stroke-width="0.8"/>
<line x1="175.00" y1="578.60" x2="175.00" y2="581.20" stroke="#4a4a4a" stroke-width="0.8"/>
<text x="172.84" y="592.80" font-size="7.7" fill="#2a2a2a" stroke="#2a2a2a" stroke-width="0.1" letter-spacing="0.100" xml:space="preserve">0</text>
<line x1="192.20" y1="578.60" x2="192.20" y2="581.20" stroke="#4a4a4a" stroke-width="0.8"/>
<text x="187.78" y="592.80" font-size="7.7" fill="#2a2a2a" stroke="#2a2a2a" stroke-width="0.1" letter-spacing="0.100" xml:space="preserve">12</text>
<line x1="209.40" y1="578.60" x2="209.40" y2="581.20" stroke="#4a4a4a" stroke-width="0.8"/>
<text x="205.00" y="592.80" font-size="7.7" fill="#2a2a2a" stroke="#2a2a2a" stroke-width="0.1" letter-spacing="0.100" xml:space="preserve">24</text>
<line x1="226.60" y1="578.60" x2="226.60" y2="581.20" stroke="#4a4a4a" stroke-width="0.8"/>
<text x="222.28" y="592.80" font-size="7.7" fill="#2a2a2a" stroke="#2a2a2a" stroke-width="0.1" letter-spacing="0.100" xml:space="preserve">36</text>
<line x1="243.80" y1="578.60" x2="243.80" y2="581.20" stroke="#4a4a4a" stroke-width="0.8"/>
<text x="239.55" y="592.80" font-size="7.7" fill="#2a2a2a" stroke="#2a2a2a" stroke-width="0.1" letter-spacing="0.100" xml:space="preserve">48</text>
<line x1="261.00" y1="578.60" x2="261.00" y2="581.20" stroke="#4a4a4a" stroke-width="0.8"/>
<text x="256.62" y="592.80" font-size="7.7" fill="#2a2a2a" stroke="#2a2a2a" stroke-width="0.1" letter-spacing="0.100" xml:space="preserve">60</text>
<line x1="278.20" y1="578.60" x2="278.20" y2="581.20" stroke="#4a4a4a" stroke-width="0.8"/>
<text x="273.88" y="592.80" font-size="7.7" fill="#2a2a2a" stroke="#2a2a2a" stroke-width="0.1" letter-spacing="0.100" xml:space="preserve">72</text>
<text x="216.38" y="606.30" font-size="8.6" fill="#231f20" stroke="#231f20" stroke-width="0.1" letter-spacing="-0.009" xml:space="preserve">Time (h)</text>
<polyline points="175.00,571.08 176.43,571.05 177.87,571.00 179.30,570.93 180.73,570.84 182.17,570.71 183.60,570.52 185.03,570.26 186.47,569.88 187.90,569.37 189.33,568.66 190.77,567.69 192.20,566.40 193.63,564.74 195.07,562.65 196.50,560.14 197.93,557.28 199.37,554.20 200.80,551.08 202.23,548.11 203.67,545.45 205.10,543.19 206.53,541.36 207.97,539.93 209.40,538.84 210.83,538.04 212.27,537.45 212.69,537.55 213.23,537.70 213.87,537.88 214.60,538.07 215.39,538.27 216.23,538.46 217.11,538.63 218.00,538.77 218.94,538.89 219.95,539.00 221.02,539.10 222.12,539.19 223.25,539.27 224.38,539.34 225.51,539.39 226.60,539.44 227.67,539.47 228.75,539.49 229.82,539.50 230.90,539.49 231.97,539.48 233.05,539.47 234.12,539.45 235.20,539.44 236.22,539.42 237.15,539.39 238.05,539.35 238.96,539.31 239.95,539.28 241.05,539.25 242.31,539.23 243.80,539.22 245.54,539.21 247.50,539.21 249.62,539.20 251.86,539.20 254.17,539.22 256.50,539.26 258.79,539.33 261.00,539.44 263.27,539.60 265.70,539.81 268.21,540.07 270.68,540.34 273.01,540.61 275.11,540.85 276.87,541.06 278.20,541.21" fill="none" stroke="#a6a6a6" stroke-width="1.3" stroke-linejoin="round" stroke-linecap="round"/>
<polyline points="175.00,571.08 176.43,571.03 177.87,570.96 179.30,570.85 180.73,570.71 182.17,570.51 183.60,570.22 185.03,569.82 186.47,569.26 187.90,568.49 189.33,567.46 190.77,566.08 192.20,564.31 193.63,562.11 195.07,559.49 196.50,556.54 197.93,553.39 199.37,550.25 200.80,547.29 202.23,544.68 203.67,542.48 205.10,540.71 206.53,539.33 207.97,538.29 209.40,537.53 210.12,537.23 210.36,537.35 210.64,537.52 210.98,537.72 211.37,537.95 211.83,538.17 212.37,538.40 212.99,538.60 213.70,538.77 214.51,538.92 215.40,539.07 216.37,539.20 217.42,539.33 218.54,539.44 219.73,539.53 220.98,539.61 222.30,539.66 223.72,539.69 225.26,539.69 226.89,539.67 228.57,539.63 230.28,539.59 231.97,539.54 233.63,539.48 235.20,539.44 236.68,539.39 238.10,539.32 239.48,539.25 240.84,539.18 242.22,539.11 243.63,539.05 245.11,539.01 246.67,539.00 248.30,539.00 249.98,539.01 251.71,539.03 253.48,539.07 255.29,539.12 257.15,539.20 259.05,539.30 261.00,539.44 263.13,539.63 265.50,539.87 268.00,540.16 270.50,540.46 272.88,540.76 275.04,541.04 276.85,541.27 278.20,541.43" fill="none" stroke="#f5a9ba" stroke-width="1.4" stroke-linejoin="round" stroke-linecap="round"/>
<polyline points="175.00,571.08 176.43,571.03 177.87,570.96 179.30,570.87 180.73,570.73 182.17,570.54 183.60,570.28 185.03,569.90 186.47,569.37 187.90,568.65 189.33,567.67 190.77,566.36 192.20,564.67 193.63,562.55 195.07,560.01 196.50,557.10 197.93,553.97 199.37,550.80 200.80,547.78 202.23,545.08 203.67,542.78 205.10,540.92 206.53,539.47 207.97,538.37 209.40,537.55 210.12,537.23 210.36,537.33 210.64,537.48 210.98,537.66 211.37,537.85 211.83,538.05 212.37,538.24 212.99,538.41 213.70,538.55 214.51,538.67 215.40,538.78 216.37,538.88 217.42,538.97 218.54,539.05 219.73,539.11 220.98,539.17 222.30,539.22 223.72,539.25 225.26,539.27 226.89,539.29 228.57,539.29 230.28,539.28 231.97,539.26 233.63,539.24 235.20,539.22 236.68,539.18 238.10,539.12 239.48,539.05 240.84,538.97 242.22,538.90 243.63,538.83 245.11,538.79 246.67,538.77 248.30,538.78 249.98,538.79 251.71,538.81 253.48,538.84 255.29,538.90 257.15,538.98 259.05,539.08 261.00,539.22 263.13,539.41 265.50,539.65 268.00,539.94 270.50,540.24 272.88,540.54 275.04,540.81 276.85,541.04 278.20,541.21" fill="none" stroke="#e0687f" stroke-width="1.4" stroke-linejoin="round" stroke-linecap="round"/>
<polyline points="175.00,571.08 176.43,571.05 177.87,571.01 179.30,570.95 180.73,570.86 182.17,570.74 183.60,570.57 185.03,570.33 186.47,570.00 187.90,569.53 189.33,568.88 190.77,567.99 192.20,566.80 193.63,565.25 195.07,563.28 196.50,560.89 197.93,558.11 199.37,555.06 200.80,551.91 202.23,548.87 203.67,546.09 205.10,543.69 206.53,541.73 207.97,540.17 209.40,538.98 210.83,538.10 212.27,537.45 212.69,537.59 213.23,537.79 213.87,538.02 214.60,538.28 215.39,538.54 216.23,538.80 217.11,539.03 218.00,539.22 218.94,539.38 219.95,539.52 221.02,539.65 222.12,539.77 223.25,539.87 224.38,539.96 225.51,540.04 226.60,540.10 227.67,540.15 228.75,540.19 229.82,540.21 230.90,540.21 231.97,540.21 233.05,540.19 234.12,540.15 235.20,540.10 236.22,540.03 237.15,539.91 238.05,539.78 238.96,539.63 239.95,539.49 241.05,539.37 242.31,539.27 243.80,539.22 245.54,539.20 247.50,539.19 249.62,539.21 251.86,539.25 254.17,539.31 256.50,539.39 258.79,539.51 261.00,539.66 263.27,539.87 265.70,540.14 268.21,540.46 270.68,540.79 273.01,541.13 275.11,541.43 276.87,541.69 278.20,541.87" fill="none" stroke="#2f5389" stroke-width="1.4" stroke-linejoin="round" stroke-linecap="round"/>
<line x1="303.60" y1="489.80" x2="303.60" y2="578.90" stroke="#4a4a4a" stroke-width="0.8"/>
<line x1="300.60" y1="578.60" x2="418.70" y2="578.60" stroke="#4a4a4a" stroke-width="0.8"/>
<line x1="300.60" y1="578.60" x2="303.60" y2="578.60" stroke="#4a4a4a" stroke-width="0.8"/>
<line x1="300.60" y1="556.48" x2="303.60" y2="556.48" stroke="#4a4a4a" stroke-width="0.8"/>
<line x1="300.60" y1="534.35" x2="303.60" y2="534.35" stroke="#4a4a4a" stroke-width="0.8"/>
<line x1="300.60" y1="512.23" x2="303.60" y2="512.23" stroke="#4a4a4a" stroke-width="0.8"/>
<line x1="300.60" y1="490.10" x2="303.60" y2="490.10" stroke="#4a4a4a" stroke-width="0.8"/>
<line x1="303.60" y1="578.60" x2="303.60" y2="581.20" stroke="#4a4a4a" stroke-width="0.8"/>
<text x="301.44" y="592.80" font-size="7.7" fill="#2a2a2a" stroke="#2a2a2a" stroke-width="0.1" letter-spacing="0.100" xml:space="preserve">0</text>
<line x1="320.80" y1="578.60" x2="320.80" y2="581.20" stroke="#4a4a4a" stroke-width="0.8"/>
<text x="316.38" y="592.80" font-size="7.7" fill="#2a2a2a" stroke="#2a2a2a" stroke-width="0.1" letter-spacing="0.100" xml:space="preserve">12</text>
<line x1="338.00" y1="578.60" x2="338.00" y2="581.20" stroke="#4a4a4a" stroke-width="0.8"/>
<text x="333.60" y="592.80" font-size="7.7" fill="#2a2a2a" stroke="#2a2a2a" stroke-width="0.1" letter-spacing="0.100" xml:space="preserve">24</text>
<line x1="355.20" y1="578.60" x2="355.20" y2="581.20" stroke="#4a4a4a" stroke-width="0.8"/>
<text x="350.88" y="592.80" font-size="7.7" fill="#2a2a2a" stroke="#2a2a2a" stroke-width="0.1" letter-spacing="0.100" xml:space="preserve">36</text>
<line x1="372.40" y1="578.60" x2="372.40" y2="581.20" stroke="#4a4a4a" stroke-width="0.8"/>
<text x="368.15" y="592.80" font-size="7.7" fill="#2a2a2a" stroke="#2a2a2a" stroke-width="0.1" letter-spacing="0.100" xml:space="preserve">48</text>
<line x1="389.60" y1="578.60" x2="389.60" y2="581.20" stroke="#4a4a4a" stroke-width="0.8"/>
<text x="385.22" y="592.80" font-size="7.7" fill="#2a2a2a" stroke="#2a2a2a" stroke-width="0.1" letter-spacing="0.100" xml:space="preserve">60</text>
<line x1="406.80" y1="578.60" x2="406.80" y2="581.20" stroke="#4a4a4a" stroke-width="0.8"/>
<text x="402.48" y="592.80" font-size="7.7" fill="#2a2a2a" stroke="#2a2a2a" stroke-width="0.1" letter-spacing="0.100" xml:space="preserve">72</text>
<text x="344.98" y="606.30" font-size="8.6" fill="#231f20" stroke="#231f20" stroke-width="0.1" letter-spacing="-0.009" xml:space="preserve">Time (h)</text>
<polyline points="303.60,571.96 305.03,571.93 306.47,571.88 307.90,571.81 309.33,571.71 310.77,571.57 312.20,571.35 313.63,571.04 315.07,570.60 316.50,569.96 317.93,569.07 319.37,567.85 320.80,566.22 322.23,564.10 323.67,561.50 325.10,558.47 326.53,555.17 327.97,551.82 329.40,548.66 330.83,545.87 332.27,543.56 333.70,541.74 335.13,540.36 336.57,539.35 338.00,538.62 339.43,538.11 339.72,538.22 340.04,538.37 340.42,538.54 340.87,538.73 341.41,538.93 342.05,539.12 342.82,539.30 343.73,539.44 344.78,539.55 345.96,539.66 347.26,539.75 348.66,539.83 350.17,539.90 351.76,539.97 353.44,540.03 355.20,540.10 357.08,540.17 359.10,540.23 361.23,540.29 363.44,540.35 365.70,540.40 367.97,540.46 370.21,540.50 372.40,540.55 374.55,540.58 376.70,540.61 378.85,540.62 381.00,540.64 383.15,540.66 385.30,540.69 387.45,540.72 389.60,540.77 391.87,540.83 394.30,540.92 396.81,541.01 399.28,541.11 401.61,541.21 403.71,541.30 405.47,541.38 406.80,541.43" fill="none" stroke="#a6a6a6" stroke-width="1.3" stroke-linejoin="round" stroke-linecap="round"/>
<polyline points="303.60,571.08 305.03,571.07 306.47,571.06 307.90,571.04 309.33,571.02 310.77,570.98 312.20,570.94 313.63,570.87 315.07,570.79 316.50,570.66 317.93,570.50 319.37,570.26 320.80,569.94 322.23,569.51 323.67,568.92 325.10,568.13 326.53,567.09 327.97,565.76 329.40,564.09 330.83,562.06 332.27,559.70 333.70,557.07 335.13,554.30 336.57,551.52 338.00,548.90 339.43,546.53 340.87,544.51 342.30,542.83 343.73,541.50 345.17,540.47 346.60,539.68 348.03,539.09 349.47,538.65 350.90,538.33 351.14,538.42 351.37,538.55 351.63,538.70 351.97,538.86 352.45,539.02 353.12,539.18 354.02,539.32 355.20,539.44 356.73,539.52 358.59,539.59 360.71,539.64 362.99,539.69 365.38,539.73 367.80,539.77 370.16,539.82 372.40,539.88 374.55,539.95 376.70,540.02 378.85,540.08 381.00,540.16 383.15,540.24 385.30,540.33 387.45,540.43 389.60,540.55 391.87,540.69 394.30,540.86 396.81,541.05 399.28,541.25 401.61,541.44 403.71,541.62 405.47,541.77 406.80,541.87" fill="none" stroke="#a9c4ec" stroke-width="1.4" stroke-linejoin="round" stroke-linecap="round"/>
<polyline points="303.60,571.08 305.03,571.07 306.47,571.05 307.90,571.03 309.33,571.00 310.77,570.96 312.20,570.90 313.63,570.82 315.07,570.71 316.50,570.56 317.93,570.34 319.37,570.05 320.80,569.65 322.23,569.11 323.67,568.39 325.10,567.43 326.53,566.19 327.97,564.62 329.40,562.69 330.83,560.42 332.27,557.85 333.70,555.10 335.13,552.30 336.57,549.61 338.00,547.15 339.43,545.01 340.87,543.23 342.30,541.79 343.73,540.67 345.17,539.81 346.60,539.16 348.03,538.68 349.47,538.33 349.83,538.42 350.23,538.55 350.69,538.70 351.26,538.86 351.96,539.02 352.83,539.18 353.90,539.32 355.20,539.44 356.80,539.52 358.69,539.59 360.81,539.64 363.08,539.69 365.45,539.73 367.83,539.77 370.17,539.82 372.40,539.88 374.55,539.95 376.70,540.02 378.85,540.08 381.00,540.16 383.15,540.24 385.30,540.33 387.45,540.43 389.60,540.55 391.87,540.69 394.30,540.86 396.81,541.05 399.28,541.25 401.61,541.44 403.71,541.62 405.47,541.77 406.80,541.87" fill="none" stroke="#6f96d1" stroke-width="1.4" stroke-linejoin="round" stroke-linecap="round"/>
<polyline points="303.60,571.96 305.03,571.93 306.47,571.88 307.90,571.80 309.33,571.69 310.77,571.54 312.20,571.30 313.63,570.97 315.07,570.49 316.50,569.82 317.93,568.87 319.37,567.57 320.80,565.85 322.23,563.65 323.67,560.96 325.10,557.87 326.53,554.54 327.97,551.22 329.40,548.13 330.83,545.44 332.27,543.23 333.70,541.51 335.13,540.21 336.57,539.27 338.00,538.59 339.43,538.11 339.72,538.24 340.04,538.41 340.42,538.62 340.87,538.84 341.41,539.08 342.05,539.30 342.82,539.50 343.73,539.66 344.78,539.79 345.96,539.89 347.26,539.98 348.66,540.06 350.17,540.13 351.76,540.19 353.44,540.26 355.20,540.32 357.08,540.39 359.10,540.46 361.23,540.52 363.44,540.57 365.70,540.63 367.97,540.68 370.21,540.72 372.40,540.77 374.55,540.80 376.70,540.81 378.85,540.82 381.00,540.82 383.15,540.83 385.30,540.86 387.45,540.91 389.60,540.99 391.87,541.11 394.30,541.27 396.81,541.46 399.28,541.67 401.61,541.87 403.71,542.05 405.47,542.21 406.80,542.32" fill="none" stroke="#2e5da6" stroke-width="1.4" stroke-linejoin="round" stroke-linecap="round"/>
<polyline points="303.60,571.96 305.03,571.93 306.47,571.88 307.90,571.80 309.33,571.69 310.77,571.54 312.20,571.30 313.63,570.97 315.07,570.49 316.50,569.82 317.93,568.87 319.37,567.57 320.80,565.85 322.23,563.65 323.67,560.96 325.10,557.87 326.53,554.54 327.97,551.22 329.40,548.13 330.83,545.44 332.27,543.23 333.70,541.51 335.13,540.21 336.57,539.27 338.00,538.59 339.43,538.11 339.72,538.24 340.04,538.41 340.42,538.61 340.87,538.83 341.41,539.06 342.05,539.28 342.82,539.49 343.73,539.66 344.78,539.81 345.96,539.94 347.26,540.06 348.66,540.17 350.17,540.27 351.76,540.37 353.44,540.46 355.20,540.55 357.08,540.62 359.10,540.69 361.23,540.75 363.44,540.81 365.70,540.86 367.97,540.90 370.21,540.95 372.40,540.99 374.55,541.02 376.70,541.03 378.85,541.04 381.00,541.04 383.15,541.05 385.30,541.08 387.45,541.13 389.60,541.21 391.87,541.33 394.30,541.49 396.81,541.68 399.28,541.89 401.61,542.09 403.71,542.27 405.47,542.43 406.80,542.54" fill="none" stroke="#1d3d78" stroke-width="1.4" stroke-linejoin="round" stroke-linecap="round"/>
<line x1="433.50" y1="489.70" x2="433.50" y2="578.80" stroke="#4a4a4a" stroke-width="0.8"/>
<line x1="430.50" y1="578.50" x2="548.10" y2="578.50" stroke="#4a4a4a" stroke-width="0.8"/>
<line x1="430.50" y1="578.50" x2="433.50" y2="578.50" stroke="#4a4a4a" stroke-width="0.8"/>
<line x1="430.50" y1="556.38" x2="433.50" y2="556.38" stroke="#4a4a4a" stroke-width="0.8"/>
<line x1="430.50" y1="534.25" x2="433.50" y2="534.25" stroke="#4a4a4a" stroke-width="0.8"/>
<line x1="430.50" y1="512.12" x2="433.50" y2="512.12" stroke="#4a4a4a" stroke-width="0.8"/>
<line x1="430.50" y1="490.00" x2="433.50" y2="490.00" stroke="#4a4a4a" stroke-width="0.8"/>
<line x1="433.50" y1="578.50" x2="433.50" y2="581.10" stroke="#4a4a4a" stroke-width="0.8"/>
<text x="431.34" y="592.80" font-size="7.7" fill="#2a2a2a" stroke="#2a2a2a" stroke-width="0.1" letter-spacing="0.100" xml:space="preserve">0</text>
<line x1="450.70" y1="578.50" x2="450.70" y2="581.10" stroke="#4a4a4a" stroke-width="0.8"/>
<text x="446.28" y="592.80" font-size="7.7" fill="#2a2a2a" stroke="#2a2a2a" stroke-width="0.1" letter-spacing="0.100" xml:space="preserve">12</text>
<line x1="467.90" y1="578.50" x2="467.90" y2="581.10" stroke="#4a4a4a" stroke-width="0.8"/>
<text x="463.50" y="592.80" font-size="7.7" fill="#2a2a2a" stroke="#2a2a2a" stroke-width="0.1" letter-spacing="0.100" xml:space="preserve">24</text>
<line x1="485.10" y1="578.50" x2="485.10" y2="581.10" stroke="#4a4a4a" stroke-width="0.8"/>
<text x="480.78" y="592.80" font-size="7.7" fill="#2a2a2a" stroke="#2a2a2a" stroke-width="0.1" letter-spacing="0.100" xml:space="preserve">36</text>
<line x1="502.30" y1="578.50" x2="502.30" y2="581.10" stroke="#4a4a4a" stroke-width="0.8"/>
<text x="498.05" y="592.80" font-size="7.7" fill="#2a2a2a" stroke="#2a2a2a" stroke-width="0.1" letter-spacing="0.100" xml:space="preserve">48</text>
<line x1="519.50" y1="578.50" x2="519.50" y2="581.10" stroke="#4a4a4a" stroke-width="0.8"/>
<text x="515.12" y="592.80" font-size="7.7" fill="#2a2a2a" stroke="#2a2a2a" stroke-width="0.1" letter-spacing="0.100" xml:space="preserve">60</text>
<line x1="536.70" y1="578.50" x2="536.70" y2="581.10" stroke="#4a4a4a" stroke-width="0.8"/>
<text x="532.38" y="592.80" font-size="7.7" fill="#2a2a2a" stroke="#2a2a2a" stroke-width="0.1" letter-spacing="0.100" xml:space="preserve">72</text>
<text x="474.88" y="606.30" font-size="8.6" fill="#231f20" stroke="#231f20" stroke-width="0.1" letter-spacing="-0.009" xml:space="preserve">Time (h)</text>
<polyline points="433.50,570.76 434.93,570.74 436.37,570.71 437.80,570.68 439.23,570.62 440.67,570.55 442.10,570.44 443.53,570.28 444.97,570.05 446.40,569.72 447.83,569.26 449.27,568.62 450.70,567.73 452.13,566.53 453.57,564.93 455.00,562.91 456.43,560.43 457.87,557.55 459.30,554.42 460.73,551.22 462.17,548.17 463.60,545.44 465.03,543.14 466.47,541.29 467.90,539.86 469.33,538.79 470.77,538.01 471.09,538.16 471.51,538.38 472.00,538.63 472.56,538.91 473.16,539.19 473.79,539.44 474.43,539.64 475.07,539.78 475.72,539.85 476.43,539.88 477.17,539.86 477.93,539.82 478.69,539.76 479.43,539.69 480.14,539.62 480.80,539.56 481.32,539.49 481.67,539.41 481.95,539.31 482.23,539.21 482.61,539.12 483.15,539.03 483.96,538.95 485.10,538.90 486.63,538.86 488.49,538.83 490.61,538.82 492.89,538.81 495.28,538.82 497.70,538.83 500.06,538.86 502.30,538.90 504.45,538.94 506.60,539.01 508.75,539.08 510.90,539.16 513.05,539.25 515.20,539.35 517.35,539.45 519.50,539.56 521.77,539.68 524.20,539.83 526.71,539.99 529.17,540.15 531.51,540.31 533.61,540.46 535.37,540.58 536.70,540.67" fill="none" stroke="#a6a6a6" stroke-width="1.3" stroke-linejoin="round" stroke-linecap="round"/>
<polyline points="433.50,569.21 434.93,569.18 436.37,569.13 437.80,569.07 439.23,568.96 440.67,568.81 442.10,568.58 443.53,568.24 444.97,567.73 446.40,566.98 447.83,565.91 449.27,564.40 450.70,562.37 452.13,559.73 453.57,556.52 455.00,552.89 456.43,549.09 457.87,545.46 459.30,542.25 460.73,539.61 462.17,537.57 463.60,536.07 465.03,535.00 466.47,534.25 466.79,534.32 467.21,534.42 467.70,534.55 468.26,534.68 468.86,534.81 469.49,534.94 470.13,535.05 470.77,535.13 471.40,535.19 472.03,535.24 472.69,535.27 473.36,535.29 474.08,535.30 474.83,535.32 475.64,535.33 476.50,535.36 477.38,535.38 478.25,535.40 479.14,535.42 480.08,535.44 481.12,535.46 482.28,535.49 483.59,535.53 485.10,535.58 486.84,535.64 488.80,535.70 490.92,535.77 493.16,535.85 495.47,535.94 497.80,536.03 500.09,536.13 502.30,536.24 504.45,536.35 506.60,536.47 508.75,536.59 510.90,536.73 513.05,536.86 515.20,537.01 517.35,537.17 519.50,537.35 521.77,537.55 524.20,537.78 526.71,538.04 529.17,538.30 531.51,538.55 533.61,538.78 535.37,538.98 536.70,539.12" fill="none" stroke="#187a78" stroke-width="1.9" stroke-linejoin="round" stroke-linecap="round"/>
<polyline points="433.50,569.21 434.93,569.18 436.37,569.13 437.80,569.07 439.23,568.96 440.67,568.81 442.10,568.58 443.53,568.24 444.97,567.73 446.40,566.98 447.83,565.91 449.27,564.40 450.70,562.37 452.13,559.73 453.57,556.52 455.00,552.89 456.43,549.09 457.87,545.46 459.30,542.25 460.73,539.61 462.17,537.57 463.60,536.07 465.03,535.00 466.47,534.25 466.79,534.32 467.21,534.42 467.70,534.55 468.26,534.68 468.86,534.81 469.49,534.94 470.13,535.05 470.77,535.13 471.40,535.19 472.03,535.24 472.69,535.27 473.36,535.29 474.08,535.30 474.83,535.32 475.64,535.33 476.50,535.36 477.38,535.38 478.25,535.40 479.14,535.42 480.08,535.44 481.12,535.46 482.28,535.49 483.59,535.53 485.10,535.58 486.84,535.64 488.80,535.70 490.92,535.77 493.16,535.85 495.47,535.94 497.80,536.03 500.09,536.13 502.30,536.24 504.45,536.35 506.60,536.47 508.75,536.59 510.90,536.73 513.05,536.86 515.20,537.01 517.35,537.17 519.50,537.35 521.77,537.55 524.20,537.78 526.71,538.04 529.17,538.30 531.51,538.55 533.61,538.78 535.37,538.98 536.70,539.12" fill="none" stroke="#24958f" stroke-width="1.4" stroke-linejoin="round" stroke-linecap="round"/>
<polyline points="433.50,569.21 434.93,569.18 436.37,569.13 437.80,569.06 439.23,568.95 440.67,568.80 442.10,568.57 443.53,568.23 444.97,567.74 446.40,567.04 447.83,566.04 449.27,564.65 450.70,562.78 452.13,560.37 453.57,557.43 455.00,554.06 456.43,550.46 457.87,546.93 459.30,543.71 460.73,540.97 462.17,538.79 463.60,537.12 465.03,535.90 466.47,535.03 467.18,534.69 467.45,534.75 467.78,534.82 468.17,534.91 468.62,535.01 469.11,535.11 469.64,535.21 470.19,535.29 470.77,535.36 471.36,535.41 471.98,535.44 472.63,535.47 473.32,535.49 474.05,535.51 474.81,535.53 475.63,535.55 476.50,535.58 477.38,535.60 478.25,535.63 479.14,535.65 480.08,535.67 481.12,535.70 482.28,535.73 483.59,535.76 485.10,535.80 486.84,535.84 488.80,535.88 490.92,535.92 493.16,535.96 495.47,536.02 497.80,536.08 500.09,536.15 502.30,536.24 504.45,536.34 506.60,536.45 508.75,536.57 510.90,536.70 513.05,536.84 515.20,536.99 517.35,537.16 519.50,537.35 521.77,537.57 524.20,537.83 526.71,538.12 529.17,538.41 531.51,538.70 533.61,538.96 535.37,539.18 536.70,539.34" fill="none" stroke="#7dd6d6" stroke-width="1.4" stroke-linejoin="round" stroke-linecap="round"/>
<polyline points="433.50,569.21 434.93,569.17 436.37,569.12 437.80,569.04 439.23,568.93 440.67,568.76 442.10,568.51 443.53,568.15 444.97,567.61 446.40,566.85 447.83,565.77 449.27,564.28 450.70,562.29 452.13,559.75 453.57,556.69 455.00,553.22 456.43,549.59 457.87,546.07 459.30,542.90 460.73,540.26 462.17,538.16 463.60,536.58 465.03,535.42 466.47,534.60 466.75,534.47 467.05,534.53 467.43,534.62 467.89,534.72 468.40,534.83 468.96,534.94 469.55,535.05 470.16,535.15 470.77,535.22 471.38,535.28 472.01,535.33 472.66,535.36 473.35,535.39 474.06,535.42 474.82,535.44 475.63,535.46 476.50,535.49 477.38,535.51 478.25,535.53 479.14,535.54 480.08,535.56 481.12,535.57 482.28,535.60 483.59,535.63 485.10,535.67 486.84,535.72 488.80,535.77 490.92,535.83 493.16,535.90 495.47,535.98 497.80,536.06 500.09,536.15 502.30,536.24 504.45,536.34 506.60,536.44 508.75,536.55 510.90,536.67 513.05,536.80 515.20,536.94 517.35,537.09 519.50,537.26 521.77,537.46 524.20,537.71 526.71,537.98 529.17,538.25 531.51,538.52 533.61,538.76 535.37,538.97 536.70,539.12" fill="none" stroke="#4ab8b0" stroke-width="1.4" stroke-linejoin="round" stroke-linecap="round"/>
<line x1="562.00" y1="489.60" x2="562.00" y2="578.60" stroke="#4a4a4a" stroke-width="0.8"/>
<line x1="559.00" y1="578.30" x2="677.00" y2="578.30" stroke="#4a4a4a" stroke-width="0.8"/>
<line x1="559.00" y1="578.30" x2="562.00" y2="578.30" stroke="#4a4a4a" stroke-width="0.8"/>
<line x1="559.00" y1="556.20" x2="562.00" y2="556.20" stroke="#4a4a4a" stroke-width="0.8"/>
<line x1="559.00" y1="534.10" x2="562.00" y2="534.10" stroke="#4a4a4a" stroke-width="0.8"/>
<line x1="559.00" y1="512.00" x2="562.00" y2="512.00" stroke="#4a4a4a" stroke-width="0.8"/>
<line x1="559.00" y1="489.90" x2="562.00" y2="489.90" stroke="#4a4a4a" stroke-width="0.8"/>
<line x1="562.00" y1="578.30" x2="562.00" y2="580.90" stroke="#4a4a4a" stroke-width="0.8"/>
<text x="559.84" y="592.80" font-size="7.7" fill="#2a2a2a" stroke="#2a2a2a" stroke-width="0.1" letter-spacing="0.100" xml:space="preserve">0</text>
<line x1="579.20" y1="578.30" x2="579.20" y2="580.90" stroke="#4a4a4a" stroke-width="0.8"/>
<text x="574.78" y="592.80" font-size="7.7" fill="#2a2a2a" stroke="#2a2a2a" stroke-width="0.1" letter-spacing="0.100" xml:space="preserve">12</text>
<line x1="596.40" y1="578.30" x2="596.40" y2="580.90" stroke="#4a4a4a" stroke-width="0.8"/>
<text x="592.00" y="592.80" font-size="7.7" fill="#2a2a2a" stroke="#2a2a2a" stroke-width="0.1" letter-spacing="0.100" xml:space="preserve">24</text>
<line x1="613.60" y1="578.30" x2="613.60" y2="580.90" stroke="#4a4a4a" stroke-width="0.8"/>
<text x="609.28" y="592.80" font-size="7.7" fill="#2a2a2a" stroke="#2a2a2a" stroke-width="0.1" letter-spacing="0.100" xml:space="preserve">36</text>
<line x1="630.80" y1="578.30" x2="630.80" y2="580.90" stroke="#4a4a4a" stroke-width="0.8"/>
<text x="626.55" y="592.80" font-size="7.7" fill="#2a2a2a" stroke="#2a2a2a" stroke-width="0.1" letter-spacing="0.100" xml:space="preserve">48</text>
<line x1="648.00" y1="578.30" x2="648.00" y2="580.90" stroke="#4a4a4a" stroke-width="0.8"/>
<text x="643.62" y="592.80" font-size="7.7" fill="#2a2a2a" stroke="#2a2a2a" stroke-width="0.1" letter-spacing="0.100" xml:space="preserve">60</text>
<line x1="665.20" y1="578.30" x2="665.20" y2="580.90" stroke="#4a4a4a" stroke-width="0.8"/>
<text x="660.88" y="592.80" font-size="7.7" fill="#2a2a2a" stroke="#2a2a2a" stroke-width="0.1" letter-spacing="0.100" xml:space="preserve">72</text>
<text x="603.38" y="606.30" font-size="8.6" fill="#231f20" stroke="#231f20" stroke-width="0.1" letter-spacing="-0.009" xml:space="preserve">Time (h)</text>
<polyline points="562.00,570.56 563.43,570.55 564.87,570.52 566.30,570.48 567.73,570.43 569.17,570.35 570.60,570.24 572.03,570.09 573.47,569.86 574.90,569.53 576.33,569.07 577.77,568.43 579.20,567.54 580.63,566.34 582.07,564.75 583.50,562.72 584.93,560.25 586.37,557.38 587.80,554.25 589.23,551.05 590.67,548.01 592.10,545.28 593.53,542.98 594.97,541.13 596.40,539.71 597.83,538.64 599.27,537.86 599.59,538.01 600.01,538.22 600.50,538.48 601.06,538.75 601.66,539.03 602.29,539.28 602.93,539.49 603.57,539.62 604.22,539.70 604.93,539.72 605.67,539.71 606.43,539.67 607.19,539.61 607.93,539.54 608.64,539.47 609.30,539.40 609.82,539.34 610.17,539.25 610.45,539.16 610.73,539.06 611.11,538.96 611.65,538.87 612.46,538.80 613.60,538.74 615.13,538.70 616.99,538.68 619.11,538.66 621.39,538.66 623.78,538.66 626.20,538.68 628.56,538.70 630.80,538.74 632.95,538.79 635.10,538.85 637.25,538.92 639.40,539.00 641.55,539.09 643.70,539.19 645.85,539.30 648.00,539.40 650.27,539.53 652.70,539.68 655.21,539.83 657.67,540.00 660.01,540.16 662.11,540.30 663.87,540.42 665.20,540.51" fill="none" stroke="#a6a6a6" stroke-width="1.3" stroke-linejoin="round" stroke-linecap="round"/>
<polyline points="562.00,569.90 563.43,569.88 564.87,569.84 566.30,569.79 567.73,569.71 569.17,569.60 570.60,569.43 572.03,569.17 573.47,568.80 574.90,568.27 576.33,567.50 577.77,566.41 579.20,564.92 580.63,562.93 582.07,560.41 583.50,557.38 584.93,553.98 586.37,550.45 587.80,547.05 589.23,544.02 590.67,541.50 592.10,539.51 593.53,538.02 594.97,536.93 596.40,536.16 597.12,535.87 597.33,535.90 597.54,535.95 597.79,536.01 598.10,536.08 598.52,536.14 599.07,536.20 599.78,536.26 600.70,536.31 601.84,536.35 603.17,536.39 604.67,536.42 606.30,536.45 608.04,536.47 609.85,536.50 611.72,536.52 613.60,536.53 615.54,536.54 617.60,536.54 619.74,536.53 621.93,536.52 624.16,536.51 626.40,536.51 628.62,536.51 630.80,536.53 632.95,536.56 635.10,536.58 637.25,536.62 639.40,536.66 641.55,536.71 643.70,536.77 645.85,536.86 648.00,536.97 650.27,537.12 652.70,537.32 655.21,537.54 657.67,537.77 660.01,538.00 662.11,538.22 663.87,538.39 665.20,538.52" fill="none" stroke="#d3bcee" stroke-width="1.4" stroke-linejoin="round" stroke-linecap="round"/>
<polyline points="562.00,569.90 563.43,569.87 564.87,569.83 566.30,569.76 567.73,569.67 569.17,569.53 570.60,569.32 572.03,569.01 573.47,568.55 574.90,567.90 576.33,566.97 577.77,565.68 579.20,563.92 580.63,561.64 582.07,558.82 583.50,555.54 584.93,551.99 586.37,548.44 587.80,545.16 589.23,542.34 590.67,540.06 592.10,538.30 593.53,537.01 594.97,536.08 596.40,535.43 596.67,535.48 596.97,535.56 597.32,535.65 597.74,535.74 598.27,535.84 598.92,535.94 599.72,536.02 600.70,536.09 601.87,536.14 603.22,536.18 604.72,536.21 606.34,536.24 608.07,536.26 609.87,536.28 611.72,536.30 613.60,536.31 615.54,536.32 617.60,536.32 619.74,536.31 621.93,536.30 624.16,536.29 626.40,536.28 628.62,536.29 630.80,536.31 632.95,536.34 635.10,536.36 637.25,536.39 639.40,536.43 641.55,536.49 643.70,536.55 645.85,536.64 648.00,536.75 650.27,536.90 652.70,537.10 655.21,537.32 657.67,537.55 660.01,537.78 662.11,538.00 663.87,538.17 665.20,538.30" fill="none" stroke="#9b72c9" stroke-width="1.4" stroke-linejoin="round" stroke-linecap="round"/>
<polyline points="562.00,569.90 563.43,569.87 564.87,569.82 566.30,569.75 567.73,569.64 569.17,569.47 570.60,569.22 572.03,568.85 573.47,568.31 574.90,567.51 576.33,566.36 577.77,564.76 579.20,562.62 580.63,559.88 582.07,556.58 583.50,552.90 584.93,549.13 586.37,545.58 587.80,542.49 589.23,539.99 590.67,538.07 592.10,536.67 593.53,535.67 594.97,534.98 595.23,535.06 595.50,535.16 595.82,535.28 596.22,535.41 596.73,535.55 597.39,535.67 598.22,535.78 599.27,535.87 600.56,535.93 602.08,535.98 603.78,536.01 605.63,536.03 607.57,536.05 609.58,536.06 611.60,536.08 613.60,536.09 615.61,536.10 617.70,536.09 619.84,536.09 622.02,536.08 624.22,536.07 626.43,536.06 628.63,536.07 630.80,536.09 632.95,536.11 635.10,536.14 637.25,536.16 639.40,536.20 641.55,536.25 643.70,536.32 645.85,536.41 648.00,536.53 650.27,536.70 652.70,536.92 655.21,537.17 657.67,537.44 660.01,537.71 662.11,537.95 663.87,538.15 665.20,538.30" fill="none" stroke="#6a40a0" stroke-width="1.4" stroke-linejoin="round" stroke-linecap="round"/>
<polyline points="562.00,569.46 563.43,569.42 564.87,569.37 566.30,569.28 567.73,569.14 569.17,568.94 570.60,568.63 572.03,568.15 573.47,567.44 574.90,566.41 576.33,564.92 577.77,562.85 579.20,560.13 580.63,556.77 582.07,552.92 583.50,548.89 584.93,545.04 586.37,541.68 587.80,538.96 589.23,536.89 590.67,535.40 592.10,534.37 593.53,533.66 593.72,533.73 593.91,533.83 594.15,533.94 594.43,534.07 594.78,534.20 595.21,534.33 595.75,534.45 596.40,534.54 597.08,534.62 597.74,534.68 598.45,534.74 599.27,534.79 600.26,534.84 601.51,534.88 603.06,534.93 605.00,534.98 607.46,535.04 610.44,535.09 613.79,535.14 617.36,535.19 621.00,535.24 624.55,535.30 627.87,535.36 630.80,535.43 633.36,535.49 635.70,535.55 637.88,535.60 639.94,535.66 641.93,535.73 643.90,535.82 645.91,535.94 648.00,536.09 650.27,536.29 652.70,536.54 655.21,536.83 657.67,537.12 660.01,537.42 662.11,537.69 663.87,537.92 665.20,538.08" fill="none" stroke="#4b2a7f" stroke-width="1.9" stroke-linejoin="round" stroke-linecap="round"/></svg>
</body></html>
